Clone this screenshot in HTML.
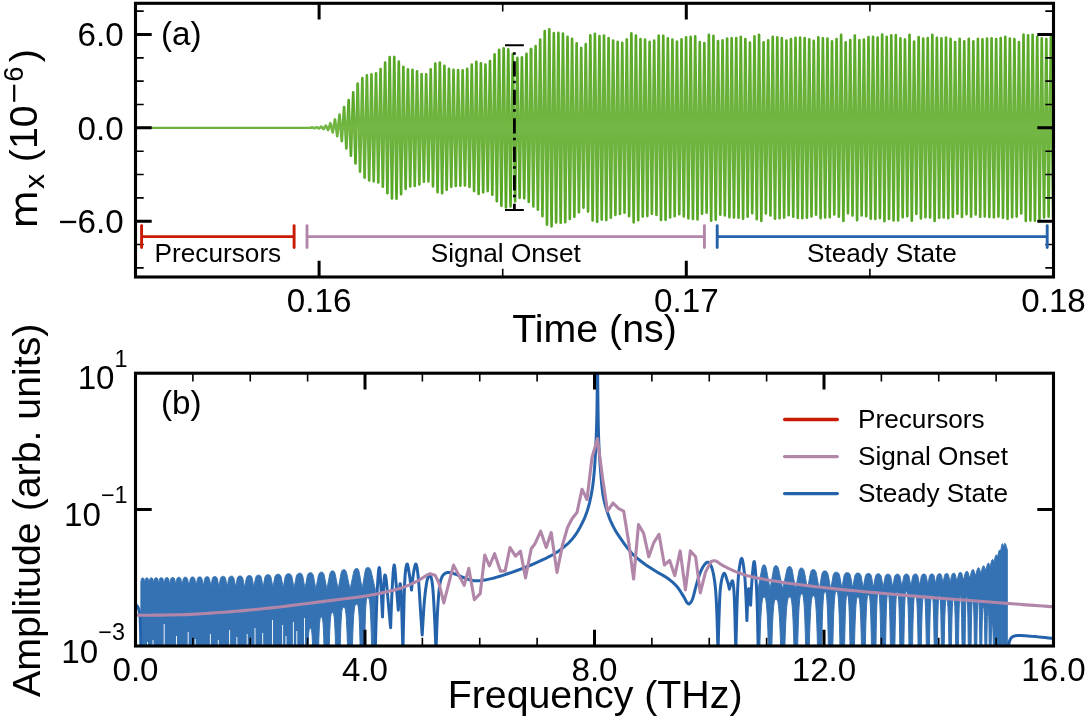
<!DOCTYPE html>
<html lang="en"><head><meta charset="utf-8"><title>Figure</title>
<style>html,body{margin:0;padding:0;background:#fff;}svg{display:block;will-change:transform;}text{font-family:"Liberation Sans",sans-serif;fill:#000;}</style></head><body>
<svg width="1086" height="720" viewBox="0 0 1086 720">
<rect x="0" y="0" width="1086" height="720" fill="#fff"/>
<defs>
<clipPath id="ca"><rect x="135.5" y="3.3" width="918" height="273.7"/></clipPath>
<clipPath id="cb"><rect x="135.5" y="373.2" width="918" height="272.8"/></clipPath>
<linearGradient id="g1" gradientUnits="userSpaceOnUse" x1="0" y1="99.85" x2="0" y2="155.85"><stop offset="0" stop-color="#54a622"/><stop offset="0.5" stop-color="#74b745"/><stop offset="1" stop-color="#54a622"/></linearGradient>
<linearGradient id="g2" gradientUnits="userSpaceOnUse" x1="0" y1="61.85" x2="0" y2="193.85"><stop offset="0" stop-color="#54a622"/><stop offset="0.5" stop-color="#74b745"/><stop offset="1" stop-color="#54a622"/></linearGradient>
<linearGradient id="gg" gradientUnits="userSpaceOnUse" x1="0" y1="30.05" x2="0" y2="225.65"><stop offset="0" stop-color="#54a622"/><stop offset="0.5" stop-color="#74b745"/><stop offset="1" stop-color="#54a622"/></linearGradient>
</defs>
<g clip-path="url(#ca)">
<path d="M132.04 127.85 L134.32 127.85 L136.6 127.85 L138.88 127.85 L141.16 127.85 L143.44 127.85 L145.72 127.85 L148 127.85 L150.28 127.85 L152.56 127.85 L154.84 127.85 L157.12 127.85 L159.4 127.85 L161.68 127.85 L163.96 127.85 L166.24 127.85 L168.52 127.85 L170.8 127.85 L173.08 127.85 L175.36 127.85 L177.64 127.85 L179.92 127.85 L182.2 127.85 L184.48 127.85 L186.76 127.85 L189.04 127.85 L191.32 127.85 L193.6 127.85 L195.88 127.85 L198.16 127.85 L200.44 127.85 L202.72 127.85 L205 127.85 L207.28 127.85 L209.56 127.85 L211.84 127.85 L214.12 127.85 L216.4 127.85 L218.68 127.85 L220.96 127.85 L223.24 127.85 L225.52 127.85 L227.8 127.85 L230.08 127.85 L232.36 127.85 L234.64 127.85 L236.92 127.85 L239.2 127.85 L241.48 127.85 L243.76 127.85 L246.04 127.85 L248.32 127.85 L250.6 127.85 L252.88 127.85 L255.16 127.85 L257.44 127.85 L259.72 127.85 L262 127.85 L264.28 127.85 L266.56 127.85 L268.84 127.85 L271.12 127.85 L273.4 127.85 L275.68 127.85 L277.96 127.85 L280.24 127.85 L282.52 127.85 L284.8 127.85 L287.08 127.85 L289.36 127.85 L291.64 127.85 L293.92 127.85 L296.2 127.85 L298.48 127.85 L300.76 127.85 L303.04 127.85 L305.32 127.85 L307.6 127.75 L309.88 127.95 L312.16 127.54" fill="none" stroke="#6db23e" stroke-width="2.2" stroke-linejoin="round" stroke-linecap="round"/>
<path d="M309.88 127.95 L312.16 127.54 L314.44 128.16 L316.72 127.18 L319 128.52 L321.28 126.61 L323.56 129.09 L325.84 125.55 L328.12 130.15 L330.4 123.23 L332.68 132.47 L334.96 119.46 L337.24 136.24 L339.52 114.51 L341.8 141.19 L344.08 107.19 L346.36 148.51 L348.64 99.97 L350.92 155.73 L353.2 92.22 L355.48 163.48 L357.76 83.93" fill="none" stroke="url(#g1)" stroke-width="2.65" stroke-linejoin="round" stroke-linecap="round"/>
<path d="M357.76 83.93 L360.04 171.77 L362.32 78.07 L364.6 177.63 L366.88 75.28 L369.16 180.42 L371.44 74.36 L373.72 181.34 L376 73.22 L378.28 182.48 L380.56 69.07 L382.84 186.63 L385.12 62.5 L387.4 193.2 L389.68 57.15 L391.96 198.55 L394.24 56.95 L396.52 198.75 L398.8 61.57 L401.08 194.13 L403.36 66.83 L405.64 188.87 L407.92 69.26 L410.2 186.44 L412.48 69.81 L414.76 185.89 L417.04 71.31 L419.32 184.39 L421.6 73.97 L423.88 181.73 L426.16 74.28 L428.44 181.42 L430.72 69.35 L433 186.35 L435.28 63.58 L437.56 192.12 L439.84 62.52 L442.12 193.18 L444.4 65.89 L446.68 189.81 L448.96 68.89 L451.24 186.81 L453.52 69.85 L455.8 185.85 L458.08 70.09 L460.36 185.61 L462.64 70.31 L464.92 185.39 L467.2 68.73 L469.48 186.97 L471.76 64.63 L474.04 191.07 L476.32 61.71 L478.6 193.99 L480.88 63.37 L483.16 192.33 L485.44 64.61 L487.72 191.09 L490 61.01 L492.28 194.69 L494.56 54.42 L496.84 201.28 L499.12 49.86 L501.4 205.84 L503.68 48.22 L505.96 207.48 L508.24 49.29 L510.52 206.41 L512.8 54.18 L515.08 201.52 L517.36 57.87 L519.64 197.83 L521.92 57.4 L524.2 198.3 L526.48 53.75 L528.76 201.95 L531.04 49.16" fill="none" stroke="url(#g2)" stroke-width="2.65" stroke-linejoin="round" stroke-linecap="round"/>
<path d="M531.04 49.16 L533.32 206.54 L535.6 45.96 L537.88 209.74 L540.16 39.58 L542.44 216.12 L544.72 31.06 L547 224.64 L549.28 29.36 L551.56 226.34 L553.84 33.18 L556.12 222.52 L558.4 32.92 L560.68 222.78 L562.96 33.47 L565.24 222.23 L567.52 36.79 L569.8 218.91 L572.08 38.87 L574.36 216.83 L576.64 43.38 L578.92 212.32 L581.2 47.95 L583.48 207.75 L585.76 44.14 L588.04 211.56 L590.32 35.25 L592.6 220.45 L594.88 33.86 L597.16 221.84 L599.44 36.14 L601.72 219.56 L604 35.61 L606.28 220.09 L608.56 38.06 L610.84 217.64 L613.12 40.67 L615.4 215.03 L617.68 41.72 L619.96 213.98 L622.24 42.93 L624.52 212.77 L626.8 39.45 L629.08 216.25 L631.36 33.37 L633.64 222.33 L635.92 35.59 L638.2 220.11 L640.48 39.13 L642.76 216.57 L645.04 39.63 L647.32 216.07 L649.6 41.85 L651.88 213.85 L654.16 40.67 L656.44 215.03 L658.72 35.7 L661 220 L663.28 35.86 L665.56 219.84 L667.84 38.29 L670.12 217.41 L672.4 39.59 L674.68 216.11 L676.96 41.47 L679.24 214.23 L681.52 39.25 L683.8 216.45 L686.08 37.35 L688.36 218.35 L690.64 36.83 L692.92 218.87 L695.2 36.25 L697.48 219.45 L699.76 42.07 L702.04 213.63 L704.32 42.98 L706.6 212.72 L708.88 34.94 L711.16 220.76 L713.44 35.93 L715.72 219.77 L718 41.05 L720.28 214.65 L722.56 40.26 L724.84 215.44 L727.12 38.56 L729.4 217.14 L731.68 38.2 L733.96 217.5 L736.24 38.08 L738.52 217.62 L740.8 36.9 L743.08 218.8 L745.36 38.96 L747.64 216.74 L749.92 42.5 L752.2 213.2 L754.48 36.44 L756.76 219.26 L759.04 34.82 L761.32 220.88 L763.6 42.24 L765.88 213.46 L768.16 40.24 L770.44 215.46 L772.72 36.94 L775 218.76 L777.28 37.44 L779.56 218.26 L781.84 38.15 L784.12 217.55 L786.4 40.5 L788.68 215.2 L790.96 39 L793.24 216.7 L795.52 37.84 L797.8 217.86 L800.08 37.47 L802.36 218.23 L804.64 38.02 L806.92 217.68 L809.2 39.33 L811.48 216.37 L813.76 40.94 L816.04 214.76 L818.32 37.41 L820.6 218.29 L822.88 38.21 L825.16 217.49 L827.44 38.55 L829.72 217.15 L832 41.26 L834.28 214.44 L836.56 39.02 L838.84 216.68 L841.12 34.74 L843.4 220.96 L845.68 42.36 L847.96 213.34 L850.24 40.12 L852.52 215.58 L854.8 35.58 L857.08 220.12 L859.36 40.19 L861.64 215.51 L863.92 39.56 L866.2 216.14 L868.48 37.05 L870.76 218.65 L873.04 36.83 L875.32 218.87 L877.6 37.64 L879.88 218.06 L882.16 34.58 L884.44 221.12 L886.72 36.78 L889 218.92 L891.28 35.32 L893.56 220.38 L895.84 35.18 L898.12 220.52 L900.4 38.35 L902.68 217.35 L904.96 39.45 L907.24 216.25 L909.52 34.91 L911.8 220.79 L914.08 41.68 L916.36 214.02 L918.64 37.17 L920.92 218.53 L923.2 38.51 L925.48 217.19 L927.76 38.18 L930.04 217.52 L932.32 34.76 L934.6 220.94 L936.88 37.89 L939.16 217.81 L941.44 38.34 L943.72 217.36 L946 37.52 L948.28 218.18 L950.56 38.76 L952.84 216.94 L955.12 42.03 L957.4 213.67 L959.68 38.84 L961.96 216.86 L964.24 41.43 L966.52 214.27 L968.8 38.92 L971.08 216.78 L973.36 41.32 L975.64 214.38 L977.92 38.9 L980.2 216.8 L982.48 39.22 L984.76 216.48 L987.04 38.68 L989.32 217.02 L991.6 38.35 L993.88 217.35 L996.16 39.1 L998.44 216.6 L1000.72 38 L1003 217.7 L1005.28 36.81 L1007.56 218.89 L1009.84 38.55 L1012.12 217.15 L1014.4 39.12 L1016.68 216.58 L1018.96 42.17 L1021.24 213.53 L1023.52 34.68 L1025.8 221.02 L1028.08 35.26 L1030.36 220.44 L1032.64 34.93 L1034.92 220.77 L1037.2 36.87 L1039.48 218.83 L1041.76 38.26 L1044.04 217.44 L1046.32 39.03 L1048.6 216.67 L1050.88 37.44 L1053.16 218.26 L1055.44 37.68" fill="none" stroke="url(#gg)" stroke-width="2.65" stroke-linejoin="round" stroke-linecap="round"/>
</g>
<path d="M319.1 3.3 v16.2 M319.1 277 v-16.2 M686.3 3.3 v16.2 M686.3 277 v-16.2 M135.5 34.5 h16.2 M1053.5 34.5 h-16.2 M135.5 127.85 h16.2 M1053.5 127.85 h-16.2 M135.5 221.2 h16.2 M1053.5 221.2 h-16.2" fill="none" stroke="#000" stroke-width="3.0"/>
<path d="M502.7 3.3 v8.2 M502.7 277 v-8.2 M869.9 3.3 v8.2 M869.9 277 v-8.2 M135.5 11.16 h8.2 M1053.5 11.16 h-8.2 M135.5 57.84 h8.2 M1053.5 57.84 h-8.2 M135.5 81.17 h8.2 M1053.5 81.17 h-8.2 M135.5 104.51 h8.2 M1053.5 104.51 h-8.2 M135.5 151.19 h8.2 M1053.5 151.19 h-8.2 M135.5 174.52 h8.2 M1053.5 174.52 h-8.2 M135.5 197.86 h8.2 M1053.5 197.86 h-8.2 M135.5 244.54 h8.2 M1053.5 244.54 h-8.2 M135.5 267.88 h8.2 M1053.5 267.88 h-8.2" fill="none" stroke="#000" stroke-width="1.6"/>
<rect x="135.5" y="3.3" width="918" height="273.7" fill="none" stroke="#000" stroke-width="3.1"/>
<path d="M141.6 225.6 V247.6 M141.6 236.6 H294.1 M294.1 225.6 V247.6" fill="none" stroke="#c81a05" stroke-width="2.9" stroke-linecap="round"/>
<path d="M307 225.6 V247.6 M307 236.6 H704.4 M704.4 225.6 V247.6" fill="none" stroke="#b186a9" stroke-width="2.9" stroke-linecap="round"/>
<path d="M717.2 225.6 V247.6 M717.2 236.6 H1047.2 M1047.2 225.6 V247.6" fill="none" stroke="#2463ab" stroke-width="2.9" stroke-linecap="round"/>
<text x="217.9" y="261.6" font-size="26.2" text-anchor="middle">Precursors</text>
<text x="505.8" y="261.6" font-size="26.2" text-anchor="middle">Signal Onset</text>
<text x="881.9" y="261.6" font-size="26.2" text-anchor="middle">Steady State</text>
<path d="M514.4 52.2 V210" fill="none" stroke="#000" stroke-width="2.8" stroke-dasharray="2.6 6.4 15.2 4.3"/>
<path d="M505 45.3 H523.8 M505 210 H523.8" fill="none" stroke="#000" stroke-width="2.1" stroke-linecap="butt"/>
<text x="319.1" y="311.9" font-size="33.2" text-anchor="middle">0.16</text>
<text x="686.3" y="311.9" font-size="33.2" text-anchor="middle">0.17</text>
<text x="1053.5" y="311.9" font-size="33.2" text-anchor="middle">0.18</text>
<text x="123.7" y="46.4" font-size="33.2" text-anchor="end">6.0</text>
<text x="123.7" y="139.75" font-size="33.2" text-anchor="end">0.0</text>
<text x="123.7" y="233.1" font-size="33.2" text-anchor="end">−6.0</text>
<text x="161" y="45.1" font-size="33.2" text-anchor="start">(a)</text>
<text x="594.5" y="341.8" font-size="39.3" text-anchor="middle">Time (ns)</text>
<text transform="rotate(-90)" x="-228.4" y="37.2" font-size="39.3" style="font-family:'DejaVu Sans',sans-serif">m</text>
<text transform="rotate(-90)" x="-189.6" y="44" font-size="27.4" style="font-family:'DejaVu Sans',sans-serif">x</text>
<text transform="rotate(-90)" x="-162.2" y="37.3" font-size="39.3">(10</text>
<text transform="rotate(-90)" x="-104.7" y="22.9" font-size="27.4" style="font-family:'DejaVu Sans',sans-serif">−</text>
<text transform="rotate(-90)" x="-81.7" y="22.9" font-size="27.4">6</text>
<text transform="rotate(-90)" x="-62.3" y="37.3" font-size="39.3">)</text>
<g clip-path="url(#cb)">
<path d="M135.5 700 H1053.5" fill="none" stroke="#c81a05" stroke-width="2.6"/>
<path d="M140.9 581.39 L141.22 580.04 L141.53 578.7 L141.85 578.22 L142.16 578.03 L142.48 577.98 L142.79 577.98 L143.11 578.01 L143.42 578.15 L143.74 578.43 L144.05 579.21 L144.37 580.27 L144.69 581.33 L144.69 582.22 L145 580.89 L145.31 579.55 L145.62 578.55 L145.93 578.17 L146.24 577.98 L146.56 577.92 L146.87 577.91 L147.18 577.92 L147.49 578.01 L147.8 578.22 L148.11 578.61 L148.43 579.67 L148.74 580.92 L149.05 582.16 L149.05 582.63 L149.36 581.24 L149.67 579.86 L149.98 578.66 L150.29 578.21 L150.6 577.97 L150.91 577.87 L151.23 577.84 L151.54 577.84 L151.85 577.88 L152.16 578.01 L152.47 578.27 L152.78 578.74 L153.09 579.98 L153.4 581.27 L153.71 582.56 L153.71 583.06 L154.03 581.62 L154.34 580.19 L154.65 578.8 L154.96 578.28 L155.27 577.97 L155.59 577.82 L155.9 577.77 L156.21 577.76 L156.52 577.78 L156.83 577.85 L157.15 578.02 L157.46 578.35 L157.77 578.98 L158.08 580.31 L158.39 581.65 L158.7 582.98 L158.7 583.52 L159.02 582.03 L159.33 580.54 L159.65 579.05 L159.96 578.36 L160.27 577.99 L160.59 577.79 L160.9 577.71 L161.22 577.69 L161.53 577.69 L161.84 577.72 L162.16 577.83 L162.47 578.06 L162.79 578.45 L163.1 579.29 L163.41 580.67 L163.73 582.05 L164.04 583.44 L164.04 584.01 L164.34 582.55 L164.64 581.08 L164.94 579.62 L165.24 578.58 L165.54 578.12 L165.84 577.84 L166.14 577.68 L166.45 577.62 L166.75 577.6 L167.05 577.6 L167.35 577.62 L167.65 577.71 L167.95 577.89 L168.25 578.2 L168.55 578.67 L168.85 579.83 L169.15 581.19 L169.45 582.54 L169.75 583.9 L169.75 584.36 L170.05 582.89 L170.35 581.42 L170.65 579.96 L170.95 578.7 L171.25 578.18 L171.55 577.84 L171.85 577.63 L172.15 577.52 L172.45 577.48 L172.75 577.47 L173.05 577.47 L173.35 577.51 L173.65 577.62 L173.95 577.84 L174.25 578.19 L174.55 578.71 L174.85 580.01 L175.15 581.41 L175.45 582.82 L175.75 584.22 L175.75 584.61 L176.06 583.05 L176.38 581.49 L176.69 579.93 L177 578.62 L177.31 578.07 L177.62 577.71 L177.94 577.49 L178.25 577.39 L178.56 577.35 L178.88 577.34 L179.19 577.34 L179.5 577.39 L179.81 577.51 L180.12 577.74 L180.44 578.11 L180.75 578.66 L181.06 580.05 L181.38 581.53 L181.69 583 L182 584.48 L182 585.48 L182.31 583.78 L182.63 582.08 L182.94 580.38 L183.25 578.79 L183.57 578.15 L183.88 577.71 L184.2 577.43 L184.51 577.28 L184.82 577.22 L185.14 577.2 L185.45 577.19 L185.76 577.21 L186.08 577.27 L186.39 577.4 L186.7 577.63 L187.02 577.98 L187.33 578.47 L187.65 579.5 L187.96 580.95 L188.27 582.41 L188.59 583.87 L188.9 585.33 L188.9 585.8 L189.2 584.31 L189.5 582.82 L189.8 581.33 L190.1 579.84 L190.4 578.62 L190.7 578.06 L191 577.66 L191.3 577.38 L191.6 577.2 L191.9 577.1 L192.2 577.05 L192.5 577.04 L192.8 577.03 L193.1 577.05 L193.4 577.11 L193.7 577.24 L194 577.47 L194.3 577.83 L194.6 578.35 L194.9 579.4 L195.2 580.96 L195.5 582.52 L195.8 584.08 L196.1 585.64 L196.1 585.64 L196.4 584.07 L196.7 582.49 L197 580.92 L197.3 579.35 L197.6 578.29 L197.9 577.75 L198.2 577.38 L198.5 577.13 L198.8 576.99 L199.1 576.92 L199.4 576.89 L199.7 576.88 L200 576.88 L200.3 576.92 L200.6 577.01 L200.9 577.17 L201.2 577.44 L201.5 577.83 L201.8 578.37 L202.1 579.58 L202.4 581.06 L202.7 582.53 L203 584.01 L203.3 585.48 L203.3 586.02 L203.6 584.43 L203.9 582.84 L204.21 581.25 L204.51 579.66 L204.81 578.37 L205.11 577.79 L205.41 577.37 L205.72 577.07 L206.02 576.89 L206.32 576.78 L206.62 576.74 L206.92 576.72 L207.23 576.72 L207.53 576.73 L207.83 576.78 L208.13 576.89 L208.43 577.09 L208.74 577.39 L209.04 577.82 L209.34 578.41 L209.64 579.79 L209.94 581.31 L210.25 582.83 L210.55 584.34 L210.85 585.86 L210.85 586.56 L211.16 584.88 L211.47 583.21 L211.77 581.53 L212.08 579.85 L212.39 578.41 L212.7 577.77 L213 577.3 L213.31 576.97 L213.62 576.76 L213.93 576.64 L214.23 576.58 L214.54 576.56 L214.85 576.55 L215.16 576.55 L215.47 576.59 L215.77 576.67 L216.08 576.83 L216.39 577.08 L216.7 577.44 L217 577.93 L217.31 578.67 L217.62 580.22 L217.93 581.76 L218.23 583.3 L218.54 584.84 L218.85 586.38 L218.85 586.85 L219.16 585.22 L219.46 583.59 L219.77 581.97 L220.08 580.34 L220.39 578.72 L220.69 577.92 L221 577.39 L221.31 577 L221.62 576.72 L221.92 576.55 L222.23 576.44 L222.54 576.39 L222.85 576.38 L223.15 576.37 L223.46 576.37 L223.77 576.41 L224.08 576.5 L224.38 576.66 L224.69 576.92 L225 577.3 L225.31 577.82 L225.61 578.6 L225.92 580.21 L226.23 581.83 L226.54 583.44 L226.84 585.05 L227.15 586.67 L227.15 586.9 L227.45 585.27 L227.75 583.63 L228.06 582 L228.36 580.37 L228.66 578.74 L228.96 577.84 L229.26 577.29 L229.56 576.88 L229.87 576.59 L230.17 576.4 L230.47 576.28 L230.77 576.22 L231.07 576.2 L231.38 576.19 L231.68 576.19 L231.98 576.21 L232.28 576.27 L232.58 576.4 L232.88 576.6 L233.19 576.9 L233.49 577.32 L233.79 577.86 L234.09 578.9 L234.39 580.46 L234.69 582.03 L235 583.59 L235.3 585.15 L235.6 586.71 L235.6 587.57 L235.9 585.87 L236.2 584.18 L236.5 582.49 L236.8 580.8 L237.1 579.11 L237.4 577.95 L237.7 577.34 L238 576.87 L238.3 576.53 L238.6 576.3 L238.9 576.15 L239.2 576.06 L239.5 576.02 L239.8 576 L240.1 576 L240.4 575.99 L240.7 576.01 L241 576.08 L241.3 576.19 L241.6 576.38 L241.9 576.65 L242.2 577.03 L242.5 577.51 L242.8 578.13 L243.1 579.62 L243.4 581.15 L243.7 582.67 L244 584.2 L244.3 585.73 L244.6 587.26 L244.6 587.64 L244.91 585.99 L245.22 584.34 L245.53 582.69 L245.83 581.03 L246.14 579.38 L246.45 577.92 L246.76 577.26 L247.07 576.74 L247.38 576.34 L247.68 576.05 L247.99 575.84 L248.3 575.71 L248.61 575.63 L248.92 575.59 L249.23 575.57 L249.53 575.56 L249.84 575.56 L250.15 575.59 L250.46 575.68 L250.77 575.83 L251.07 576.07 L251.38 576.42 L251.69 576.9 L252 577.52 L252.31 578.82 L252.62 580.5 L252.93 582.18 L253.23 583.86 L253.54 585.53 L253.85 587.21 L253.85 587.21 L254.16 585.51 L254.47 583.8 L254.78 582.09 L255.08 580.39 L255.39 578.68 L255.7 577.35 L256.01 576.7 L256.32 576.19 L256.62 575.81 L256.93 575.54 L257.24 575.36 L257.55 575.25 L257.86 575.18 L258.17 575.15 L258.48 575.14 L258.78 575.13 L259.09 575.14 L259.4 575.19 L259.71 575.29 L260.02 575.47 L260.32 575.74 L260.63 576.1 L260.94 576.6 L261.25 577.23 L261.56 578.66 L261.87 580.29 L262.18 581.91 L262.48 583.53 L262.79 585.16 L263.1 586.78 L263.1 587.55 L263.4 585.82 L263.71 584.08 L264.01 582.34 L264.32 580.6 L264.62 578.86 L264.93 577.26 L265.23 576.55 L265.54 575.99 L265.84 575.56 L266.15 575.24 L266.45 575.02 L266.76 574.87 L267.06 574.78 L267.37 574.73 L267.67 574.71 L267.98 574.69 L268.28 574.69 L268.58 574.71 L268.89 574.76 L269.19 574.86 L269.5 575.03 L269.8 575.27 L270.11 575.61 L270.41 576.05 L270.72 576.61 L271.02 577.56 L271.33 579.15 L271.63 580.74 L271.94 582.33 L272.24 583.92 L272.55 585.51 L272.85 587.1 L272.85 587.95 L273.15 586.23 L273.46 584.52 L273.76 582.8 L274.06 581.08 L274.36 579.37 L274.67 577.65 L274.97 576.58 L275.27 575.95 L275.58 575.44 L275.88 575.05 L276.18 574.76 L276.49 574.55 L276.79 574.4 L277.09 574.32 L277.39 574.27 L277.7 574.24 L278 574.23 L278.3 574.22 L278.61 574.23 L278.91 574.26 L279.21 574.35 L279.51 574.49 L279.82 574.69 L280.12 574.98 L280.42 575.37 L280.73 575.87 L281.03 576.48 L281.33 577.73 L281.64 579.35 L281.94 580.98 L282.24 582.6 L282.54 584.22 L282.85 585.85 L283.15 587.47 L283.15 588.32 L283.45 586.58 L283.75 584.83 L284.05 583.08 L284.36 581.34 L284.66 579.59 L284.96 577.84 L285.26 576.46 L285.56 575.78 L285.86 575.22 L286.16 574.78 L286.47 574.43 L286.77 574.18 L287.07 574 L287.37 573.88 L287.67 573.81 L287.97 573.77 L288.27 573.75 L288.57 573.73 L288.88 573.73 L289.18 573.74 L289.48 573.78 L289.78 573.86 L290.08 573.99 L290.38 574.18 L290.68 574.45 L290.99 574.81 L291.29 575.27 L291.59 575.83 L291.89 576.58 L292.19 578.21 L292.49 579.85 L292.79 581.5 L293.1 583.15 L293.4 584.81 L293.7 586.47 L294 588.14 L294 588.3 L294.3 586.73 L294.61 585.15 L294.91 583.56 L295.22 581.97 L295.52 580.37 L295.82 578.77 L296.13 577.17 L296.43 575.97 L296.74 575.28 L297.04 574.72 L297.35 574.27 L297.65 573.92 L297.95 573.66 L298.26 573.48 L298.56 573.36 L298.87 573.29 L299.17 573.25 L299.48 573.22 L299.78 573.21 L300.08 573.21 L300.39 573.23 L300.69 573.29 L301 573.41 L301.3 573.61 L301.6 573.9 L301.91 574.3 L302.21 574.82 L302.52 575.49 L302.82 576.45 L303.13 578.18 L303.43 579.91 L303.73 581.66 L304.04 583.4 L304.34 585.16 L304.65 586.92 L304.95 588.68 L304.95 588.51 L305.25 586.92 L305.55 585.31 L305.85 583.71 L306.16 582.1 L306.46 580.48 L306.76 578.86 L307.06 577.23 L307.36 575.77 L307.66 574.95 L307.96 574.29 L308.27 573.78 L308.57 573.4 L308.87 573.12 L309.17 572.93 L309.47 572.82 L309.77 572.75 L310.07 572.72 L310.38 572.71 L310.68 572.7 L310.98 572.71 L311.28 572.76 L311.58 572.88 L311.88 573.06 L312.18 573.35 L312.48 573.74 L312.79 574.26 L313.09 574.94 L313.39 575.78 L313.69 577.38 L313.99 579.01 L314.29 580.64 L314.59 582.28 L314.9 583.92 L315.2 585.57 L315.5 587.22 L315.8 588.87 L315.8 589.23 L316.11 587.63 L316.41 586.04 L316.72 584.43 L317.03 582.82 L317.33 581.21 L317.64 579.59 L317.95 577.97 L318.26 576.34 L318.56 575.1 L318.87 574.25 L319.18 573.59 L319.48 573.09 L319.79 572.73 L320.1 572.48 L320.4 572.33 L320.71 572.24 L321.02 572.2 L321.33 572.16 L321.63 572.13 L321.94 572.13 L322.25 572.17 L322.55 572.29 L322.86 572.5 L323.17 572.83 L323.47 573.31 L323.78 573.95 L324.09 574.78 L324.39 576.07 L324.7 577.7 L325.01 579.33 L325.32 580.97 L325.62 582.61 L325.93 584.26 L326.24 585.91 L326.54 587.57 L326.85 589.23 L326.85 589.42 L327.15 587.85 L327.45 586.28 L327.75 584.7 L328.06 583.12 L328.36 581.53 L328.66 579.94 L328.96 578.35 L329.26 576.75 L329.56 575.15 L329.86 573.95 L330.16 573.05 L330.47 572.35 L330.77 571.83 L331.07 571.46 L331.37 571.21 L331.67 571.06 L331.97 570.97 L332.27 570.93 L332.58 570.89 L332.88 570.88 L333.18 570.9 L333.48 571 L333.78 571.19 L334.08 571.51 L334.38 571.97 L334.69 572.62 L334.99 573.47 L335.29 574.66 L335.59 576.2 L335.89 577.75 L336.19 579.29 L336.49 580.84 L336.79 582.39 L337.1 583.94 L337.4 585.49 L337.7 587.04 L338 588.59 L338 590.41 L338.3 588.71 L338.61 587.01 L338.91 585.31 L339.21 583.6 L339.51 581.9 L339.81 580.19 L340.12 578.48 L340.42 576.77 L340.72 575.06 L341.02 573.49 L341.33 572.35 L341.63 571.46 L341.93 570.8 L342.24 570.33 L342.54 570.02 L342.84 569.82 L343.14 569.72 L343.44 569.66 L343.75 569.63 L344.05 569.61 L344.35 569.63 L344.66 569.7 L344.96 569.85 L345.26 570.1 L345.56 570.47 L345.87 570.99 L346.17 571.67 L346.47 572.55 L346.77 573.67 L347.08 575.11 L347.38 576.54 L347.68 577.97 L347.98 579.41 L348.29 580.84 L348.59 582.28 L348.89 583.72 L349.19 585.15 L349.5 586.59 L349.8 588.03 L350.1 589.48 L350.1 589.28 L350.4 587.83 L350.7 586.37 L351 584.91 L351.3 583.45 L351.6 581.99 L351.9 580.53 L352.2 579.07 L352.5 577.6 L352.8 576.14 L353.1 574.67 L353.4 573.21 L353.7 572 L354 571.06 L354.3 570.31 L354.6 569.73 L354.9 569.29 L355.2 568.97 L355.5 568.76 L355.8 568.62 L356.1 568.54 L356.4 568.5 L356.7 568.47 L357 568.46 L357.3 568.49 L357.6 568.61 L357.9 568.85 L358.2 569.25 L358.5 569.83 L358.8 570.65 L359.1 571.73 L359.4 573.23 L359.7 574.92 L360 576.62 L360.3 578.31 L360.6 580 L360.9 581.7 L361.2 583.39 L361.5 585.09 L361.8 586.79 L362.1 588.49 L362.1 589.42 L362.4 587.58 L362.71 585.73 L363.01 583.89 L363.32 582.04 L363.62 580.19 L363.93 578.34 L364.23 576.48 L364.54 574.63 L364.84 572.77 L365.15 571.18 L365.45 570.02 L365.76 569.14 L366.06 568.49 L366.37 568.05 L366.67 567.77 L366.97 567.61 L367.28 567.54 L367.58 567.5 L367.89 567.49 L368.19 567.49 L368.5 567.53 L368.8 567.61 L369.11 567.75 L369.41 567.96 L369.72 568.26 L370.02 568.68 L370.33 569.21 L370.63 569.88 L370.93 570.7 L371.24 571.69 L371.54 573.02 L371.85 574.36 L372.15 575.7 L372.46 577.04 L372.76 578.39 L373.07 579.73 L373.37 581.08 L373.68 582.43 L373.98 583.78 L374.29 585.13 L374.59 586.49 L374.9 587.84 L375.2 589.19 L375.2 652 L374.9 652 L374.59 652 L374.29 652 L373.98 652 L373.68 652 L373.37 652 L373.07 652 L372.76 652 L372.46 652 L372.15 652 L371.85 652 L371.54 644 L371.24 632.4 L370.93 623.08 L370.63 615.72 L370.33 610.06 L370.02 605.82 L369.72 602.77 L369.41 600.67 L369.11 599.31 L368.8 598.51 L368.5 598.09 L368.19 597.91 L367.89 597.87 L367.58 597.86 L367.28 597.88 L366.97 598.06 L366.67 598.68 L366.37 600.12 L366.06 602.86 L365.76 607.44 L365.45 614.46 L365.15 624.62 L364.84 638.64 L364.54 652 L364.23 652 L363.93 652 L363.62 652 L363.32 652 L363.01 652 L362.71 652 L362.4 652 L362.1 652 L362.1 652 L361.8 652 L361.5 652 L361.2 652 L360.9 652 L360.6 652 L360.3 652 L360 641.1 L359.7 630.71 L359.4 622.62 L359.1 616.5 L358.8 612.02 L358.5 608.87 L358.2 606.79 L357.9 605.5 L357.6 604.8 L357.3 604.47 L357 604.37 L356.7 604.35 L356.4 604.35 L356.1 604.37 L355.8 604.46 L355.5 604.7 L355.2 605.18 L354.9 606.01 L354.6 607.33 L354.3 609.28 L354 612.02 L353.7 615.71 L353.4 620.54 L353.1 626.71 L352.8 634.41 L352.5 643.87 L352.2 652 L351.9 652 L351.6 652 L351.3 652 L351 652 L350.7 652 L350.4 652 L350.1 652 L350.1 652 L349.8 652 L349.5 652 L349.19 652 L348.89 652 L348.59 652 L348.29 652 L347.98 652 L347.68 652 L347.38 642.52 L347.08 633.4 L346.77 626.13 L346.47 620.45 L346.17 616.14 L345.87 612.96 L345.56 610.71 L345.26 609.21 L344.96 608.27 L344.66 607.74 L344.35 607.49 L344.05 607.4 L343.75 607.39 L343.44 607.39 L343.14 607.42 L342.84 607.57 L342.54 608.01 L342.24 608.93 L341.93 610.55 L341.63 613.15 L341.33 617.03 L341.02 622.51 L340.72 629.94 L340.42 639.71 L340.12 652 L339.81 652 L339.51 652 L339.21 652 L338.91 652 L338.61 652 L338.3 652 L338 652 L338 652 L337.7 652 L337.4 652 L337.1 652 L336.79 652 L336.49 652 L336.19 652 L335.89 652 L335.59 647.51 L335.29 637.06 L334.99 629.1 L334.69 623.21 L334.38 619.03 L334.08 616.22 L333.78 614.45 L333.48 613.44 L333.18 612.96 L332.88 612.78 L332.58 612.74 L332.27 612.74 L331.97 612.77 L331.67 612.92 L331.37 613.35 L331.07 614.29 L330.77 615.96 L330.47 618.67 L330.16 622.73 L329.86 628.49 L329.56 636.33 L329.26 646.67 L328.96 652 L328.66 652 L328.36 652 L328.06 652 L327.75 652 L327.45 652 L327.15 652 L326.85 652 L326.85 652 L326.54 652 L326.24 652 L325.93 652 L325.62 652 L325.32 652 L325.01 652 L324.7 652 L324.39 652 L324.09 649.91 L323.78 638.69 L323.47 630.56 L323.17 624.92 L322.86 621.24 L322.55 619.03 L322.25 617.86 L321.94 617.36 L321.63 617.21 L321.33 617.2 L321.02 617.2 L320.71 617.32 L320.4 617.76 L320.1 618.84 L319.79 620.91 L319.48 624.43 L319.18 629.89 L318.87 637.83 L318.56 648.86 L318.26 652 L317.95 652 L317.64 652 L317.33 652 L317.03 652 L316.72 652 L316.41 652 L316.11 652 L315.8 652 L315.8 652 L315.5 652 L315.2 652 L314.9 652 L314.59 652 L314.29 652 L313.99 652 L313.69 652 L313.39 652 L313.09 652 L312.79 651.51 L312.48 642.9 L312.18 636.89 L311.88 632.91 L311.58 630.49 L311.28 629.18 L310.98 628.58 L310.68 628.39 L310.38 628.37 L310.07 628.37 L309.77 628.46 L309.47 628.86 L309.17 629.87 L308.87 631.88 L308.57 635.35 L308.27 640.8 L307.96 648.81 L307.66 652 L307.36 652 L307.06 652 L306.76 652 L306.46 652 L306.16 652 L305.85 652 L305.55 652 L305.25 652 L304.95 652 L304.95 652 L304.65 652 L304.34 652 L304.04 652 L303.73 652 L303.43 652 L303.13 652 L302.82 652 L302.52 652 L302.21 652 L301.91 652 L301.6 649.84 L301.3 647.82 L301 646.55 L300.69 645.83 L300.39 645.48 L300.08 645.35 L299.78 645.32 L299.48 645.32 L299.17 645.33 L298.87 645.42 L298.56 645.68 L298.26 646.22 L297.95 647.21 L297.65 648.8 L297.35 651.18 L297.04 652 L296.74 652 L296.43 652 L296.13 652 L295.82 652 L295.52 652 L295.22 652 L294.91 652 L294.61 652 L294.3 652 L294 652 L294 652 L293.7 652 L293.4 652 L293.1 652 L292.79 652 L292.49 652 L292.19 652 L291.89 652 L291.59 652 L291.29 652 L290.99 652 L290.68 652 L290.38 652 L290.08 652 L289.78 652 L289.48 652 L289.18 652 L288.88 652 L288.57 652 L288.27 652 L287.97 652 L287.67 652 L287.37 652 L287.07 652 L286.77 652 L286.47 652 L286.16 652 L285.86 652 L285.56 652 L285.26 652 L284.96 652 L284.66 652 L284.36 652 L284.05 652 L283.75 652 L283.45 652 L283.15 652 L283.15 652 L282.85 652 L282.54 652 L282.24 652 L281.94 652 L281.64 652 L281.33 652 L281.03 652 L280.73 652 L280.42 652 L280.12 652 L279.82 652 L279.51 652 L279.21 652 L278.91 652 L278.61 652 L278.3 652 L278 652 L277.7 652 L277.39 652 L277.09 652 L276.79 652 L276.49 652 L276.18 652 L275.88 652 L275.58 652 L275.27 652 L274.97 652 L274.67 652 L274.36 652 L274.06 652 L273.76 652 L273.46 652 L273.15 652 L272.85 652 L272.85 652 L272.55 652 L272.24 652 L271.94 652 L271.63 652 L271.33 652 L271.02 652 L270.72 652 L270.41 652 L270.11 652 L269.8 652 L269.5 652 L269.19 652 L268.89 652 L268.58 652 L268.28 652 L267.98 652 L267.67 652 L267.37 652 L267.06 652 L266.76 652 L266.45 652 L266.15 652 L265.84 652 L265.54 652 L265.23 652 L264.93 652 L264.62 652 L264.32 652 L264.01 652 L263.71 652 L263.4 652 L263.1 652 L263.1 652 L262.79 652 L262.48 652 L262.18 652 L261.87 652 L261.56 652 L261.25 652 L260.94 652 L260.63 652 L260.32 652 L260.02 652 L259.71 652 L259.4 652 L259.09 652 L258.78 652 L258.48 652 L258.17 652 L257.86 652 L257.55 652 L257.24 652 L256.93 652 L256.62 652 L256.32 652 L256.01 652 L255.7 652 L255.39 652 L255.08 652 L254.78 652 L254.47 652 L254.16 652 L253.85 652 L253.85 652 L253.54 652 L253.23 652 L252.93 652 L252.62 652 L252.31 652 L252 652 L251.69 652 L251.38 652 L251.07 652 L250.77 652 L250.46 652 L250.15 652 L249.84 652 L249.53 652 L249.23 652 L248.92 652 L248.61 652 L248.3 652 L247.99 652 L247.68 652 L247.38 652 L247.07 652 L246.76 652 L246.45 652 L246.14 652 L245.83 652 L245.53 652 L245.22 652 L244.91 652 L244.6 652 L244.6 652 L244.3 652 L244 652 L243.7 652 L243.4 652 L243.1 652 L242.8 652 L242.5 652 L242.2 652 L241.9 652 L241.6 652 L241.3 652 L241 652 L240.7 652 L240.4 652 L240.1 652 L239.8 652 L239.5 652 L239.2 652 L238.9 652 L238.6 652 L238.3 652 L238 652 L237.7 652 L237.4 652 L237.1 652 L236.8 652 L236.5 652 L236.2 652 L235.9 652 L235.6 652 L235.6 652 L235.3 652 L235 652 L234.69 652 L234.39 652 L234.09 652 L233.79 652 L233.49 652 L233.19 652 L232.88 652 L232.58 652 L232.28 652 L231.98 652 L231.68 652 L231.38 652 L231.07 652 L230.77 652 L230.47 652 L230.17 652 L229.87 652 L229.56 652 L229.26 652 L228.96 652 L228.66 652 L228.36 652 L228.06 652 L227.75 652 L227.45 652 L227.15 652 L227.15 652 L226.84 652 L226.54 652 L226.23 652 L225.92 652 L225.61 652 L225.31 652 L225 652 L224.69 652 L224.38 652 L224.08 652 L223.77 652 L223.46 652 L223.15 652 L222.85 652 L222.54 652 L222.23 652 L221.92 652 L221.62 652 L221.31 652 L221 652 L220.69 652 L220.39 652 L220.08 652 L219.77 652 L219.46 652 L219.16 652 L218.85 652 L218.85 652 L218.54 652 L218.23 652 L217.93 652 L217.62 652 L217.31 652 L217 652 L216.7 652 L216.39 652 L216.08 652 L215.77 652 L215.47 652 L215.16 652 L214.85 652 L214.54 652 L214.23 652 L213.93 652 L213.62 652 L213.31 652 L213 652 L212.7 652 L212.39 652 L212.08 652 L211.77 652 L211.47 652 L211.16 652 L210.85 652 L210.85 652 L210.55 652 L210.25 652 L209.94 652 L209.64 652 L209.34 652 L209.04 652 L208.74 652 L208.43 652 L208.13 652 L207.83 652 L207.53 652 L207.23 652 L206.92 652 L206.62 652 L206.32 652 L206.02 652 L205.72 652 L205.41 652 L205.11 652 L204.81 652 L204.51 652 L204.21 652 L203.9 652 L203.6 652 L203.3 652 L203.3 652 L203 652 L202.7 652 L202.4 652 L202.1 652 L201.8 652 L201.5 652 L201.2 652 L200.9 652 L200.6 652 L200.3 652 L200 652 L199.7 652 L199.4 652 L199.1 652 L198.8 652 L198.5 652 L198.2 652 L197.9 652 L197.6 652 L197.3 652 L197 652 L196.7 652 L196.4 652 L196.1 652 L196.1 652 L195.8 652 L195.5 652 L195.2 652 L194.9 652 L194.6 652 L194.3 652 L194 652 L193.7 652 L193.4 652 L193.1 652 L192.8 652 L192.5 652 L192.2 652 L191.9 652 L191.6 652 L191.3 652 L191 652 L190.7 652 L190.4 652 L190.1 652 L189.8 652 L189.5 652 L189.2 652 L188.9 652 L188.9 652 L188.59 652 L188.27 652 L187.96 652 L187.65 652 L187.33 652 L187.02 652 L186.7 652 L186.39 652 L186.08 652 L185.76 652 L185.45 652 L185.14 652 L184.82 652 L184.51 652 L184.2 652 L183.88 652 L183.57 652 L183.25 652 L182.94 652 L182.63 652 L182.31 652 L182 652 L182 652 L181.69 652 L181.38 652 L181.06 652 L180.75 652 L180.44 652 L180.12 652 L179.81 652 L179.5 652 L179.19 652 L178.88 652 L178.56 652 L178.25 652 L177.94 652 L177.62 652 L177.31 652 L177 652 L176.69 652 L176.38 652 L176.06 652 L175.75 652 L175.75 652 L175.45 652 L175.15 652 L174.85 652 L174.55 652 L174.25 652 L173.95 652 L173.65 652 L173.35 652 L173.05 652 L172.75 652 L172.45 652 L172.15 652 L171.85 652 L171.55 652 L171.25 652 L170.95 652 L170.65 652 L170.35 652 L170.05 652 L169.75 652 L169.75 652 L169.45 652 L169.15 652 L168.85 652 L168.55 652 L168.25 652 L167.95 652 L167.65 652 L167.35 652 L167.05 652 L166.75 652 L166.45 652 L166.14 652 L165.84 652 L165.54 652 L165.24 652 L164.94 652 L164.64 652 L164.34 652 L164.04 652 L164.04 652 L163.73 652 L163.41 652 L163.1 652 L162.79 652 L162.47 652 L162.16 652 L161.84 652 L161.53 652 L161.22 652 L160.9 652 L160.59 652 L160.27 652 L159.96 652 L159.65 652 L159.33 652 L159.02 652 L158.7 652 L158.7 652 L158.39 652 L158.08 652 L157.77 652 L157.46 652 L157.15 652 L156.83 652 L156.52 652 L156.21 652 L155.9 652 L155.59 652 L155.27 652 L154.96 652 L154.65 652 L154.34 652 L154.03 652 L153.71 652 L153.71 652 L153.4 652 L153.09 652 L152.78 652 L152.47 652 L152.16 652 L151.85 652 L151.54 652 L151.23 652 L150.91 652 L150.6 652 L150.29 652 L149.98 652 L149.67 652 L149.36 652 L149.05 652 L149.05 652 L148.74 652 L148.43 652 L148.11 652 L147.8 652 L147.49 652 L147.18 652 L146.87 652 L146.56 652 L146.24 652 L145.93 652 L145.62 652 L145.31 652 L145 652 L144.69 652 L144.69 652 L144.37 652 L144.05 652 L143.74 652 L143.42 652 L143.11 652 L142.79 652 L142.48 652 L142.16 652 L141.85 652 L141.53 652 L141.22 652 L140.9 652 Z" fill="#3572b3" stroke="#3572b3" stroke-width="1.0" stroke-linejoin="round"/>
<path d="M758.2 588.5 L758.5 586.83 L758.81 585.16 L759.11 583.49 L759.41 581.83 L759.71 580.17 L760.02 578.51 L760.32 576.85 L760.62 575.2 L760.92 573.55 L761.23 571.91 L761.53 570.27 L761.83 568.62 L762.13 567.29 L762.44 566.32 L762.74 565.64 L763.04 565.22 L763.34 564.99 L763.65 564.9 L763.95 564.89 L764.25 564.91 L764.55 564.96 L764.86 565.09 L765.16 565.36 L765.46 565.82 L765.76 566.52 L766.07 567.52 L766.37 568.87 L766.67 570.52 L766.97 572.16 L767.28 573.8 L767.58 575.44 L767.88 577.07 L768.18 578.7 L768.49 580.33 L768.79 581.96 L769.09 583.58 L769.39 585.2 L769.7 586.82 L770 588.43 L770 589.43 L770.3 587.67 L770.61 585.91 L770.91 584.15 L771.22 582.4 L771.52 580.65 L771.83 578.9 L772.13 577.16 L772.44 575.41 L772.74 573.68 L773.05 571.94 L773.35 570.21 L773.66 568.74 L773.96 567.62 L774.27 566.8 L774.57 566.25 L774.88 565.91 L775.18 565.73 L775.49 565.67 L775.79 565.67 L776.1 565.69 L776.4 565.73 L776.7 565.82 L777.01 565.99 L777.31 566.26 L777.62 566.68 L777.92 567.26 L778.23 568.04 L778.53 569.05 L778.84 570.31 L779.14 571.78 L779.45 573.26 L779.75 574.73 L780.06 576.21 L780.36 577.68 L780.67 579.15 L780.97 580.62 L781.28 582.08 L781.58 583.54 L781.89 585 L782.19 586.45 L782.5 587.91 L782.8 589.36 L782.8 589.36 L783.1 587.86 L783.4 586.36 L783.7 584.87 L784 583.38 L784.3 581.9 L784.6 580.41 L784.9 578.93 L785.2 577.45 L785.5 575.98 L785.8 574.5 L786.1 573.03 L786.4 571.57 L786.7 570.25 L787 569.22 L787.3 568.4 L787.6 567.76 L787.9 567.29 L788.2 566.96 L788.5 566.75 L788.8 566.62 L789.1 566.57 L789.4 566.56 L789.7 566.58 L790 566.61 L790.3 566.68 L790.6 566.83 L790.9 567.08 L791.2 567.48 L791.5 568.04 L791.8 568.81 L792.1 569.82 L792.4 571.11 L792.7 572.77 L793 574.47 L793.3 576.16 L793.6 577.86 L793.9 579.55 L794.2 581.24 L794.5 582.92 L794.8 584.6 L795.1 586.28 L795.4 587.95 L795.7 589.63 L795.7 588.73 L796 587.07 L796.31 585.4 L796.61 583.74 L796.92 582.09 L797.22 580.43 L797.52 578.78 L797.83 577.14 L798.13 575.5 L798.43 573.86 L798.74 572.22 L799.04 570.96 L799.35 570.02 L799.65 569.29 L799.95 568.77 L800.26 568.41 L800.56 568.18 L800.87 568.07 L801.17 568.03 L801.47 568.05 L801.78 568.08 L802.08 568.13 L802.38 568.22 L802.69 568.38 L802.99 568.63 L803.3 569.02 L803.6 569.56 L803.9 570.3 L804.21 571.26 L804.51 572.46 L804.82 574.14 L805.12 575.84 L805.42 577.54 L805.73 579.23 L806.03 580.92 L806.33 582.61 L806.64 584.29 L806.94 585.97 L807.25 587.64 L807.55 589.31 L807.55 589 L807.85 587.29 L808.15 585.59 L808.45 583.89 L808.75 582.19 L809.05 580.49 L809.35 578.8 L809.65 577.12 L809.95 575.44 L810.25 573.76 L810.55 572.47 L810.85 571.57 L811.15 570.88 L811.45 570.35 L811.75 569.98 L812.05 569.73 L812.35 569.58 L812.65 569.52 L812.95 569.51 L813.25 569.53 L813.55 569.57 L813.85 569.61 L814.15 569.69 L814.45 569.83 L814.75 570.05 L815.05 570.37 L815.35 570.81 L815.65 571.39 L815.95 572.14 L816.25 573.09 L816.55 574.41 L816.85 576.1 L817.15 577.79 L817.45 579.47 L817.75 581.15 L818.05 582.83 L818.35 584.5 L818.65 586.17 L818.95 587.84 L819.25 589.5 L819.25 589.21 L819.55 587.45 L819.86 585.69 L820.16 583.94 L820.47 582.2 L820.77 580.46 L821.07 578.72 L821.38 576.99 L821.68 575.26 L821.99 573.86 L822.29 573.02 L822.59 572.35 L822.9 571.83 L823.2 571.44 L823.51 571.17 L823.81 571 L824.11 570.91 L824.42 570.87 L824.72 570.88 L825.02 570.91 L825.33 570.95 L825.63 571 L825.94 571.09 L826.24 571.23 L826.54 571.44 L826.85 571.75 L827.15 572.16 L827.46 572.71 L827.76 573.41 L828.06 574.27 L828.37 575.55 L828.67 577.33 L828.98 579.11 L829.28 580.88 L829.58 582.63 L829.89 584.38 L830.19 586.13 L830.5 587.86 L830.8 589.59 L830.8 588.83 L831.1 587.08 L831.4 585.33 L831.7 583.58 L832 581.84 L832.3 580.11 L832.6 578.38 L832.9 576.65 L833.2 575.1 L833.5 574.33 L833.8 573.71 L834.1 573.22 L834.4 572.84 L834.7 572.57 L835 572.38 L835.3 572.27 L835.6 572.22 L835.9 572.21 L836.2 572.21 L836.5 572.22 L836.8 572.23 L837.1 572.26 L837.4 572.33 L837.7 572.44 L838 572.63 L838.3 572.89 L838.6 573.26 L838.9 573.74 L839.2 574.35 L839.5 575.11 L839.8 576.36 L840.1 578.16 L840.4 579.95 L840.7 581.74 L841 583.52 L841.3 585.3 L841.6 587.07 L841.9 588.84 L841.9 588.22 L842.21 586.42 L842.51 584.62 L842.82 582.82 L843.13 581.03 L843.44 579.25 L843.74 577.47 L844.05 575.7 L844.36 574.86 L844.66 574.21 L844.97 573.7 L845.28 573.31 L845.59 573.03 L845.89 572.83 L846.2 572.71 L846.51 572.65 L846.81 572.63 L847.12 572.63 L847.43 572.64 L847.74 572.66 L848.04 572.7 L848.35 572.78 L848.66 572.92 L848.96 573.12 L849.27 573.42 L849.58 573.81 L849.89 574.33 L850.19 574.97 L850.5 575.77 L850.81 577.5 L851.11 579.26 L851.42 581.02 L851.73 582.78 L852.04 584.54 L852.34 586.3 L852.65 588.06 L852.65 587.8 L852.95 586.12 L853.26 584.44 L853.56 582.75 L853.86 581.07 L854.16 579.39 L854.47 577.71 L854.77 576.03 L855.07 575.2 L855.38 574.58 L855.68 574.09 L855.98 573.71 L856.28 573.44 L856.59 573.25 L856.89 573.13 L857.19 573.06 L857.5 573.04 L857.8 573.04 L858.1 573.05 L858.4 573.07 L858.71 573.11 L859.01 573.18 L859.31 573.31 L859.62 573.51 L859.92 573.8 L860.22 574.18 L860.52 574.68 L860.83 575.32 L861.13 576.1 L861.43 577.78 L861.74 579.52 L862.04 581.26 L862.34 583 L862.64 584.73 L862.95 586.47 L863.25 588.21 L863.25 587.53 L863.55 585.91 L863.85 584.29 L864.15 582.67 L864.45 581.05 L864.75 579.43 L865.05 577.81 L865.35 576.18 L865.65 575.46 L865.95 574.87 L866.25 574.4 L866.55 574.05 L866.85 573.8 L867.15 573.62 L867.45 573.52 L867.75 573.46 L868.05 573.44 L868.35 573.44 L868.65 573.46 L868.95 573.48 L869.25 573.52 L869.55 573.62 L869.85 573.77 L870.15 574 L870.45 574.33 L870.75 574.78 L871.05 575.36 L871.35 576.08 L871.65 577.47 L871.95 579.21 L872.25 580.95 L872.55 582.69 L872.85 584.44 L873.15 586.18 L873.45 587.92 L873.45 587.16 L873.75 585.5 L874.06 583.85 L874.36 582.2 L874.67 580.55 L874.97 578.9 L875.28 577.24 L875.58 576.03 L875.89 575.37 L876.19 574.86 L876.5 574.47 L876.8 574.19 L877.11 574 L877.41 573.89 L877.72 573.84 L878.02 573.82 L878.33 573.83 L878.63 573.84 L878.93 573.87 L879.24 573.93 L879.54 574.04 L879.85 574.23 L880.15 574.51 L880.46 574.9 L880.76 575.41 L881.07 576.08 L881.37 577.17 L881.68 578.89 L881.98 580.62 L882.29 582.35 L882.59 584.08 L882.9 585.8 L883.2 587.53 L883.2 587.11 L883.51 585.45 L883.81 583.79 L884.12 582.13 L884.43 580.47 L884.73 578.81 L885.04 577.15 L885.35 576.15 L885.65 575.53 L885.96 575.05 L886.26 574.71 L886.57 574.46 L886.88 574.31 L887.18 574.23 L887.49 574.19 L887.8 574.19 L888.1 574.2 L888.41 574.21 L888.72 574.24 L889.02 574.32 L889.33 574.47 L889.64 574.7 L889.94 575.05 L890.25 575.52 L890.55 576.14 L890.86 577.04 L891.17 578.74 L891.47 580.45 L891.78 582.15 L892.09 583.86 L892.39 585.56 L892.7 587.27 L892.7 586.76 L893.01 585.12 L893.31 583.47 L893.62 581.83 L893.93 580.19 L894.23 578.54 L894.54 576.9 L894.85 576.04 L895.15 575.44 L895.46 574.99 L895.77 574.65 L896.07 574.43 L896.38 574.28 L896.69 574.2 L896.99 574.17 L897.3 574.16 L897.61 574.16 L897.91 574.17 L898.22 574.23 L898.53 574.34 L898.83 574.53 L899.14 574.82 L899.45 575.25 L899.75 575.81 L900.06 576.55 L900.37 578.15 L900.67 579.87 L900.98 581.58 L901.29 583.29 L901.59 585 L901.9 586.72 L901.9 586.38 L902.2 584.74 L902.5 583.11 L902.8 581.48 L903.1 579.84 L903.4 578.21 L903.7 576.58 L904 575.85 L904.3 575.28 L904.6 574.85 L904.9 574.54 L905.2 574.34 L905.5 574.21 L905.8 574.15 L906.1 574.12 L906.4 574.12 L906.7 574.12 L907 574.14 L907.3 574.2 L907.6 574.33 L907.9 574.53 L908.2 574.84 L908.5 575.26 L908.8 575.83 L909.1 576.55 L909.4 578.18 L909.7 579.82 L910 581.45 L910.3 583.08 L910.6 584.71 L910.9 586.34 L910.9 585.91 L911.2 584.33 L911.5 582.74 L911.81 581.16 L912.11 579.57 L912.41 577.98 L912.71 576.43 L913.01 575.72 L913.31 575.18 L913.62 574.77 L913.92 574.48 L914.22 574.28 L914.52 574.16 L914.82 574.1 L915.12 574.08 L915.43 574.08 L915.73 574.08 L916.03 574.11 L916.33 574.19 L916.63 574.34 L916.93 574.59 L917.24 574.95 L917.54 575.46 L917.84 576.14 L918.14 577.49 L918.44 579.17 L918.74 580.85 L919.05 582.52 L919.35 584.2 L919.65 585.87 L919.65 585.02 L919.96 583.45 L920.26 581.87 L920.57 580.29 L920.87 578.71 L921.18 577.13 L921.48 575.92 L921.79 575.29 L922.09 574.83 L922.4 574.49 L922.71 574.27 L923.01 574.14 L923.32 574.07 L923.62 574.04 L923.93 574.04 L924.23 574.04 L924.54 574.08 L924.84 574.17 L925.15 574.34 L925.46 574.63 L925.76 575.05 L926.07 575.64 L926.37 576.62 L926.68 578.29 L926.98 579.97 L927.29 581.64 L927.59 583.31 L927.9 584.99 L927.9 584.14 L928.21 582.57 L928.52 581 L928.83 579.43 L929.14 577.86 L929.45 576.29 L929.76 575.45 L930.07 574.91 L930.38 574.53 L930.69 574.27 L931 574.12 L931.31 574.04 L931.62 574.01 L931.93 574 L932.24 574.01 L932.55 574.05 L932.86 574.16 L933.17 574.36 L933.48 574.68 L933.79 575.17 L934.1 575.85 L934.41 577.38 L934.72 579.04 L935.03 580.7 L935.34 582.36 L935.65 584.02 L935.65 583.34 L935.96 581.79 L936.26 580.24 L936.57 578.69 L936.88 577.14 L937.18 575.67 L937.49 575.01 L937.79 574.52 L938.1 574.19 L938.41 573.98 L938.71 573.86 L939.02 573.8 L939.33 573.78 L939.63 573.78 L939.94 573.79 L940.24 573.87 L940.55 574.03 L940.86 574.31 L941.16 574.75 L941.47 575.37 L941.77 576.71 L942.08 578.31 L942.39 579.9 L942.69 581.5 L943 583.09 L943 582.67 L943.31 581.23 L943.62 579.8 L943.93 578.36 L944.23 576.93 L944.54 575.49 L944.85 574.73 L945.16 574.22 L945.47 573.88 L945.78 573.68 L946.09 573.58 L946.4 573.54 L946.7 573.53 L947.01 573.54 L947.32 573.6 L947.63 573.75 L947.94 574.05 L948.25 574.52 L948.56 575.2 L948.87 576.61 L949.17 578.06 L949.48 579.52 L949.79 580.97 L950.1 582.43 L950.1 582 L950.41 580.69 L950.72 579.38 L951.03 578.07 L951.35 576.76 L951.66 575.45 L951.97 574.52 L952.28 573.96 L952.59 573.61 L952.9 573.41 L953.21 573.33 L953.53 573.3 L953.84 573.26 L954.15 573.26 L954.46 573.37 L954.77 573.62 L955.08 574.09 L955.39 574.84 L955.7 576.16 L956.02 577.48 L956.33 578.79 L956.64 580.11 L956.95 581.43 L956.95 581.03 L957.26 579.78 L957.57 578.53 L957.89 577.28 L958.2 576.03 L958.51 574.78 L958.82 573.75 L959.13 573.12 L959.45 572.74 L959.76 572.53 L960.07 572.43 L960.38 572.39 L960.69 572.37 L961 572.44 L961.32 572.69 L961.63 573.18 L961.94 574.03 L962.25 575.25 L962.56 576.47 L962.88 577.69 L963.19 578.92 L963.5 580.14 L963.5 579.76 L963.81 578.58 L964.12 577.4 L964.44 576.22 L964.75 575.04 L965.06 573.86 L965.38 572.81 L965.69 572.14 L966 571.76 L966.31 571.58 L966.62 571.51 L966.94 571.44 L967.25 571.43 L967.56 571.6 L967.88 572.06 L968.19 572.91 L968.5 574.01 L968.81 575.11 L969.12 576.21 L969.44 577.31 L969.75 578.41 L969.75 577.91 L970.06 576.78 L970.37 575.65 L970.67 574.52 L970.98 573.4 L971.29 572.27 L971.6 571.17 L971.91 570.42 L972.21 570 L972.52 569.8 L972.83 569.69 L973.14 569.62 L973.44 569.72 L973.75 570.11 L974.06 570.95 L974.37 571.98 L974.68 573.02 L974.98 574.05 L975.29 575.08 L975.6 576.11 L975.6 575.43 L975.91 574.31 L976.22 573.19 L976.54 572.07 L976.85 570.95 L977.16 569.84 L977.47 568.85 L977.78 568.29 L978.09 568.02 L978.41 567.9 L978.72 567.82 L979.03 567.95 L979.34 568.5 L979.65 569.49 L979.96 570.51 L980.28 571.53 L980.59 572.55 L980.9 573.58 L980.9 573.01 L981.2 571.88 L981.51 570.75 L981.81 569.63 L982.11 568.5 L982.42 567.37 L982.72 566.59 L983.02 566.2 L983.33 566.03 L983.63 565.88 L983.93 565.88 L984.23 566.25 L984.54 567.09 L984.84 568 L985.14 568.9 L985.45 569.81 L985.75 570.71 L985.75 570.21 L986.07 568.99 L986.39 567.77 L986.7 566.55 L987.02 565.33 L987.34 564.25 L987.66 563.65 L987.98 563.37 L988.29 563.15 L988.61 563.08 L988.93 563.51 L989.25 564.4 L989.56 565.28 L989.88 566.17 L990.2 567.06 L990.2 566.37 L990.53 565.06 L990.85 563.74 L991.17 562.42 L991.5 561.11 L991.83 560.26 L992.15 559.83 L992.47 559.49 L992.8 559.36 L993.12 559.9 L993.45 560.71 L993.77 561.52 L994.1 562.33 L994.1 561.76 L994.41 560.33 L994.73 558.91 L995.04 557.48 L995.35 556.21 L995.67 555.51 L995.98 555.09 L996.3 554.82 L996.61 555.15 L996.92 555.86 L997.24 556.56 L997.55 557.26 L997.55 556.89 L997.87 555.42 L998.18 553.95 L998.5 552.49 L998.81 551.37 L999.12 550.8 L999.44 550.18 L999.75 549.94 L1000.07 550.33 L1000.38 550.73 L1000.7 551.14 L1000.7 550.76 L1001.02 548.99 L1001.33 547.21 L1001.65 545.46 L1001.97 544.28 L1002.28 543.69 L1002.6 543.89 L1002.92 544.85 L1003.23 545.96 L1003.55 547.06 L1003.55 548.19 L1003.86 546.64 L1004.17 545.1 L1004.49 543.72 L1004.8 543.32 L1005.11 543.46 L1005.42 543.8 L1005.74 544.43 L1006.05 545.43 L1006.36 546.5 L1006.67 547.56 L1006.99 548.62 L1007.3 549.69 L1007.3 652 L1006.99 652 L1006.67 652 L1006.36 652 L1006.05 652 L1005.74 652 L1005.42 652 L1005.11 652 L1004.8 652 L1004.49 652 L1004.17 652 L1003.86 652 L1003.55 652 L1003.55 652 L1003.23 652 L1002.92 652 L1002.6 652 L1002.28 652 L1001.97 652 L1001.65 652 L1001.33 652 L1001.02 652 L1000.7 652 L1000.7 652 L1000.38 652 L1000.07 652 L999.75 652 L999.44 652 L999.12 652 L998.81 652 L998.5 652 L998.18 652 L997.87 652 L997.55 652 L997.55 652 L997.24 652 L996.92 652 L996.61 644.47 L996.3 640.57 L995.98 639.86 L995.67 639.95 L995.35 641.37 L995.04 646.31 L994.73 652 L994.41 652 L994.1 652 L994.1 652 L993.77 652 L993.45 652 L993.12 636.38 L992.8 626.78 L992.47 624.45 L992.15 624.39 L991.83 625.62 L991.5 631.01 L991.17 644.16 L990.85 652 L990.53 652 L990.2 652 L990.2 652 L989.88 652 L989.56 652 L989.25 651.54 L988.93 623.84 L988.61 611.9 L988.29 608.82 L987.98 608.7 L987.66 610.1 L987.34 616.73 L987.02 633.28 L986.7 652 L986.39 652 L986.07 652 L985.75 652 L985.75 652 L985.45 652 L985.14 652 L984.84 642.07 L984.54 623.39 L984.23 612.98 L983.93 608.29 L983.63 606.94 L983.33 606.85 L983.02 607.25 L982.72 609.48 L982.42 615.39 L982.11 627.01 L981.81 646.52 L981.51 652 L981.2 652 L980.9 652 L980.9 652 L980.59 652 L980.28 652 L979.96 652 L979.65 633 L979.34 613.76 L979.03 604.46 L978.72 601.32 L978.41 600.92 L978.09 601.16 L977.78 603.24 L977.47 609.5 L977.16 622.58 L976.85 645.29 L976.54 652 L976.22 652 L975.91 652 L975.6 652 L975.6 652 L975.29 652 L974.98 652 L974.68 652 L974.37 645.97 L974.06 622.78 L973.75 609.23 L973.44 602.56 L973.14 600.21 L972.83 599.88 L972.52 600.02 L972.21 601.39 L971.91 605.7 L971.6 614.87 L971.29 630.96 L970.98 652 L970.67 652 L970.37 652 L970.06 652 L969.75 652 L969.75 652 L969.44 652 L969.12 652 L968.81 652 L968.5 652 L968.19 640.96 L967.88 617.35 L967.56 604.19 L967.25 598.25 L966.94 596.53 L966.62 596.41 L966.31 596.92 L966 599.83 L965.69 607.56 L965.38 622.79 L965.06 648.37 L964.75 652 L964.44 652 L964.12 652 L963.81 652 L963.5 652 L963.5 652 L963.19 652 L962.88 652 L962.56 652 L962.25 652 L961.94 640.35 L961.63 618.55 L961.32 605.53 L961 598.9 L960.69 596.38 L960.38 595.92 L960.07 595.99 L959.76 597.04 L959.45 600.69 L959.13 608.81 L958.82 623.44 L958.51 646.69 L958.2 652 L957.89 652 L957.57 652 L957.26 652 L956.95 652 L956.95 652 L956.64 652 L956.33 652 L956.02 652 L955.7 649.58 L955.39 629.19 L955.08 615.27 L954.77 606.5 L954.46 601.61 L954.15 599.41 L953.84 598.77 L953.53 598.72 L953.21 598.92 L952.9 600.01 L952.59 602.93 L952.28 608.67 L951.97 618.31 L951.66 632.97 L951.35 652 L951.03 652 L950.72 652 L950.41 652 L950.1 652 L950.1 652 L949.79 652 L949.48 652 L949.17 652 L948.87 642.39 L948.56 626.27 L948.25 614.88 L947.94 607.33 L947.63 602.78 L947.32 600.42 L947.01 599.5 L946.7 599.32 L946.4 599.33 L946.09 599.66 L945.78 600.85 L945.47 603.57 L945.16 608.53 L944.85 616.49 L944.54 628.21 L944.23 644.52 L943.93 652 L943.62 652 L943.31 652 L943 652 L943 652 L942.69 652 L942.39 652 L942.08 652 L941.77 652 L941.47 652 L941.16 632.31 L940.86 615.58 L940.55 605.05 L940.24 599.18 L939.94 596.53 L939.63 595.77 L939.33 595.72 L939.02 595.95 L938.71 597.29 L938.41 600.85 L938.1 607.84 L937.79 619.58 L937.49 637.43 L937.18 652 L936.88 652 L936.57 652 L936.26 652 L935.96 652 L935.65 652 L935.65 652 L935.34 652 L935.03 652 L934.72 652 L934.41 652 L934.1 640.67 L933.79 623.32 L933.48 611.22 L933.17 603.36 L932.86 598.77 L932.55 596.5 L932.24 595.71 L931.93 595.59 L931.62 595.64 L931.31 596.14 L931 597.69 L930.69 601.01 L930.38 606.82 L930.07 615.93 L929.76 629.16 L929.45 647.34 L929.14 652 L928.83 652 L928.52 652 L928.21 652 L927.9 652 L927.9 652 L927.59 652 L927.29 652 L926.98 652 L926.68 652 L926.37 649.94 L926.07 631.13 L925.76 617.33 L925.46 607.71 L925.15 601.47 L924.84 597.82 L924.54 596.03 L924.23 595.4 L923.93 595.31 L923.62 595.35 L923.32 595.75 L923.01 597.01 L922.71 599.7 L922.4 604.4 L922.09 611.77 L921.79 622.46 L921.48 637.15 L921.18 652 L920.87 652 L920.57 652 L920.26 652 L919.96 652 L919.65 652 L919.65 652 L919.35 652 L919.05 652 L918.74 652 L918.44 652 L918.14 647.5 L917.84 630.97 L917.54 618.37 L917.24 609.14 L916.93 602.7 L916.63 598.53 L916.33 596.09 L916.03 594.89 L915.73 594.47 L915.43 594.41 L915.12 594.44 L914.82 594.72 L914.52 595.58 L914.22 597.4 L913.92 600.6 L913.62 605.6 L913.31 612.86 L913.01 622.84 L912.71 636.01 L912.41 652 L912.11 652 L911.81 652 L911.5 652 L911.2 652 L910.9 652 L910.9 652 L910.6 652 L910.3 652 L910 652 L909.7 652 L909.4 652 L909.1 652 L908.8 634.47 L908.5 619.53 L908.2 608.62 L907.9 601.05 L907.6 596.18 L907.3 593.36 L907 592.01 L906.7 591.56 L906.4 591.5 L906.1 591.56 L905.8 592.01 L905.5 593.36 L905.2 596.18 L904.9 601.05 L904.6 608.62 L904.3 619.53 L904 634.47 L903.7 652 L903.4 652 L903.1 652 L902.8 652 L902.5 652 L902.2 652 L901.9 652 L901.9 652 L901.59 652 L901.29 652 L900.98 652 L900.67 652 L900.37 652 L900.06 652 L899.75 642.05 L899.45 624.06 L899.14 611.13 L898.83 602.35 L898.53 596.87 L898.22 593.85 L897.91 592.52 L897.61 592.16 L897.3 592.14 L896.99 592.3 L896.69 593.09 L896.38 595.13 L896.07 599.08 L895.77 605.64 L895.46 615.54 L895.15 629.57 L894.85 648.51 L894.54 652 L894.23 652 L893.93 652 L893.62 652 L893.31 652 L893.01 652 L892.7 652 L892.7 652 L892.39 652 L892.09 652 L891.78 652 L891.47 652 L891.17 652 L890.86 652 L890.55 652 L890.25 638.26 L889.94 621.75 L889.64 610.09 L889.33 602.37 L889.02 597.71 L888.72 595.3 L888.41 594.36 L888.1 594.17 L887.8 594.19 L887.49 594.53 L887.18 595.78 L886.88 598.63 L886.57 603.83 L886.26 612.17 L885.96 624.45 L885.65 641.54 L885.35 652 L885.04 652 L884.73 652 L884.43 652 L884.12 652 L883.81 652 L883.51 652 L883.2 652 L883.2 652 L882.9 652 L882.59 652 L882.29 652 L881.98 652 L881.68 652 L881.37 652 L881.07 652 L880.76 644.64 L880.46 625.82 L880.15 612.23 L879.85 602.96 L879.54 597.12 L879.24 593.86 L878.93 592.4 L878.63 591.98 L878.33 591.95 L878.02 592.08 L877.72 592.85 L877.41 594.89 L877.11 598.9 L876.8 605.62 L876.5 615.85 L876.19 630.4 L875.89 650.1 L875.58 652 L875.28 652 L874.97 652 L874.67 652 L874.36 652 L874.06 652 L873.75 652 L873.45 652 L873.45 652 L873.15 652 L872.85 652 L872.55 652 L872.25 652 L871.95 652 L871.65 652 L871.35 639.77 L871.05 626.34 L870.75 615.97 L870.45 608.24 L870.15 602.73 L869.85 599.03 L869.55 596.76 L869.25 595.55 L868.95 595.05 L868.65 594.93 L868.35 594.93 L868.05 595.02 L867.75 595.44 L867.45 596.45 L867.15 598.32 L866.85 601.39 L866.55 605.95 L866.25 612.36 L865.95 620.95 L865.65 632.08 L865.35 646.1 L865.05 652 L864.75 652 L864.45 652 L864.15 652 L863.85 652 L863.55 652 L863.25 652 L863.25 652 L862.95 652 L862.64 652 L862.34 652 L862.04 652 L861.74 652 L861.43 644.68 L861.13 632.45 L860.83 622.57 L860.52 614.76 L860.22 608.76 L859.92 604.32 L859.62 601.18 L859.31 599.1 L859.01 597.85 L858.71 597.2 L858.4 596.94 L858.1 596.89 L857.8 596.9 L857.5 596.99 L857.19 597.33 L856.89 598.11 L856.59 599.52 L856.28 601.78 L855.98 605.12 L855.68 609.76 L855.38 615.94 L855.07 623.91 L854.77 633.91 L854.47 646.21 L854.16 652 L853.86 652 L853.56 652 L853.26 652 L852.95 652 L852.65 652 L852.65 652 L852.34 652 L852.04 652 L851.73 652 L851.42 652 L851.11 652 L850.81 652 L850.5 652 L850.19 652 L849.89 640.82 L849.58 625.63 L849.27 614.33 L848.96 606.31 L848.66 600.96 L848.35 597.71 L848.04 596 L847.74 595.31 L847.43 595.16 L847.12 595.17 L846.81 595.37 L846.51 596.17 L846.2 598.04 L845.89 601.49 L845.59 607.06 L845.28 615.32 L844.97 626.86 L844.66 642.29 L844.36 652 L844.05 652 L843.74 652 L843.44 652 L843.13 652 L842.82 652 L842.51 652 L842.21 652 L841.9 652 L841.9 652 L841.6 652 L841.3 652 L841 652 L840.7 652 L840.4 652 L840.1 652 L839.8 637.61 L839.5 625.5 L839.2 615.78 L838.9 608.17 L838.6 602.39 L838.3 598.17 L838 595.24 L837.7 593.35 L837.4 592.26 L837.1 591.74 L836.8 591.57 L836.5 591.54 L836.2 591.56 L835.9 591.71 L835.6 592.15 L835.3 593.07 L835 594.65 L834.7 597.11 L834.4 600.67 L834.1 605.53 L833.8 611.93 L833.5 620.11 L833.2 630.29 L832.9 642.73 L832.6 652 L832.3 652 L832 652 L831.7 652 L831.4 652 L831.1 652 L830.8 652 L830.8 652 L830.5 652 L830.19 652 L829.89 652 L829.58 652 L829.28 652 L828.98 652 L828.67 652 L828.37 643.98 L828.06 630 L827.76 618.85 L827.46 610.18 L827.15 603.65 L826.85 598.93 L826.54 595.71 L826.24 593.69 L825.94 592.56 L825.63 592.05 L825.33 591.9 L825.02 591.89 L824.72 591.94 L824.42 592.21 L824.11 592.93 L823.81 594.34 L823.51 596.71 L823.2 600.32 L822.9 605.45 L822.59 612.39 L822.29 621.46 L821.99 632.96 L821.68 647.22 L821.38 652 L821.07 652 L820.77 652 L820.47 652 L820.16 652 L819.86 652 L819.55 652 L819.25 652 L819.25 652 L818.95 652 L818.65 652 L818.35 652 L818.05 652 L817.75 652 L817.45 644.28 L817.15 633.72 L816.85 624.86 L816.55 617.54 L816.25 611.61 L815.95 606.9 L815.65 603.26 L815.35 600.55 L815.05 598.62 L814.75 597.32 L814.45 596.53 L814.15 596.11 L813.85 595.93 L813.55 595.89 L813.25 595.89 L812.95 595.93 L812.65 596.11 L812.35 596.53 L812.05 597.32 L811.75 598.62 L811.45 600.55 L811.15 603.26 L810.85 606.9 L810.55 611.61 L810.25 617.54 L809.95 624.86 L809.65 633.72 L809.35 644.28 L809.05 652 L808.75 652 L808.45 652 L808.15 652 L807.85 652 L807.55 652 L807.55 652 L807.25 652 L806.94 652 L806.64 652 L806.33 652 L806.03 652 L805.73 649.42 L805.42 637.11 L805.12 626.83 L804.82 618.37 L804.51 611.55 L804.21 606.17 L803.9 602.05 L803.6 599 L803.3 596.86 L802.99 595.45 L802.69 594.61 L802.38 594.19 L802.08 594.02 L801.78 593.99 L801.47 594 L801.17 594.07 L800.87 594.33 L800.56 594.89 L800.26 595.91 L799.95 597.52 L799.65 599.89 L799.35 603.16 L799.04 607.52 L798.74 613.11 L798.43 620.13 L798.13 628.73 L797.83 639.11 L797.52 651.45 L797.22 652 L796.92 652 L796.61 652 L796.31 652 L796 652 L795.7 652 L795.7 652 L795.4 652 L795.1 652 L794.8 652 L794.5 652 L794.2 652 L793.9 645.43 L793.6 635.21 L793.3 626.59 L793 619.41 L792.7 613.53 L792.4 608.81 L792.1 605.12 L791.8 602.31 L791.5 600.26 L791.2 598.84 L790.9 597.93 L790.6 597.4 L790.3 597.14 L790 597.06 L789.7 597.05 L789.4 597.05 L789.1 597.11 L788.8 597.27 L788.5 597.61 L788.2 598.19 L787.9 599.1 L787.6 600.41 L787.3 602.21 L787 604.57 L786.7 607.59 L786.4 611.35 L786.1 615.94 L785.8 621.45 L785.5 627.98 L785.2 635.62 L784.9 644.47 L784.6 652 L784.3 652 L784 652 L783.7 652 L783.4 652 L783.1 652 L782.8 652 L782.8 652 L782.5 652 L782.19 652 L781.89 652 L781.58 652 L781.28 652 L780.97 652 L780.67 646.43 L780.36 637.49 L780.06 629.8 L779.75 623.26 L779.45 617.76 L779.14 613.21 L778.84 609.51 L778.53 606.57 L778.23 604.28 L777.92 602.57 L777.62 601.34 L777.31 600.51 L777.01 599.99 L776.7 599.7 L776.4 599.58 L776.1 599.55 L775.79 599.55 L775.49 599.58 L775.18 599.73 L774.88 600.11 L774.57 600.84 L774.27 602.06 L773.96 603.89 L773.66 606.48 L773.35 609.97 L773.05 614.51 L772.74 620.25 L772.44 627.35 L772.13 635.97 L771.83 646.26 L771.52 652 L771.22 652 L770.91 652 L770.61 652 L770.3 652 L770 652 L770 652 L769.7 652 L769.39 652 L769.09 652 L768.79 652 L768.49 651.12 L768.18 640.1 L767.88 630.74 L767.58 622.88 L767.28 616.4 L766.97 611.14 L766.67 606.97 L766.37 603.75 L766.07 601.34 L765.76 599.63 L765.46 598.48 L765.16 597.78 L764.86 597.4 L764.55 597.24 L764.25 597.21 L763.95 597.21 L763.65 597.24 L763.34 597.4 L763.04 597.78 L762.74 598.48 L762.44 599.63 L762.13 601.34 L761.83 603.75 L761.53 606.97 L761.23 611.14 L760.92 616.4 L760.62 622.88 L760.32 630.74 L760.02 640.1 L759.71 651.12 L759.41 652 L759.11 652 L758.81 652 L758.5 652 L758.2 652 Z" fill="#3572b3" stroke="#3572b3" stroke-width="1.0" stroke-linejoin="round"/>
<path d="M164.2 650 V624 M176.5 650 V636 M188.2 650 V632 M195.2 650 V639 M210.4 650 V634 M218.3 650 V640 M229.6 650 V630 M236.9 650 V637 M247.2 650 V634 M255 650 V628 M262.7 650 V633 M272.5 650 V620 M282.6 650 V625 M286 650 V636 M293.4 650 V622 M296.8 650 V631 M304.5 650 V618 M153 650 V640 M147.5 650 V642" fill="none" stroke="#fff" stroke-width="0.9"/>
<path d="M135.5 604.5 L135.78 604.73 L136.17 605.04 L136.63 605.42 L137.09 605.91 L137.5 606.5 L137.87 607.14 L138.23 607.81 L138.58 608.61 L138.9 609.64 L139.2 611 L139.47 612.48 L139.71 614.02 L139.92 615.92 L140.12 618.48 L140.3 622 L140.46 627.26 L140.6 634.07 L140.73 641.25 L140.83 647.62 L140.9 652 M375.2 652 L375.33 647.51 L375.51 641.19 L375.73 633.75 L375.96 625.93 L376.19 618.44 L376.4 612 L376.59 606.51 L376.78 601.35 L376.97 596.53 L377.16 592.04 L377.37 587.86 L377.6 584 L377.85 580.16 L378.13 576.28 L378.42 572.72 L378.71 569.83 L379.01 567.98 L379.3 567.5 L379.59 568.68 L379.87 571.28 L380.16 574.91 L380.45 579.17 L380.73 583.66 L381 588 L381.28 592.68 L381.57 598.11 L381.86 603.78 L382.12 609.17 L382.34 613.75 L382.5 617 M382.5 617 L382.61 613.92 L382.75 609.54 L382.93 604.41 L383.11 599.07 L383.31 594.09 L383.5 590 L383.68 586.64 L383.87 583.54 L384.07 580.78 L384.27 578.46 L384.48 576.67 L384.7 575.5 L384.93 574.95 L385.16 574.94 L385.4 575.47 L385.65 576.5 L385.92 578.02 L386.2 580 L386.5 582.61 L386.81 585.9 L387.14 589.68 L387.49 593.74 L387.84 597.92 L388.2 602 L388.6 606.37 L389.06 611.24 L389.53 616.23 L389.96 620.9 L390.33 624.86 L390.6 627.7 M390.6 627.7 L390.77 623.19 L391 616.79 L391.28 609.29 L391.58 601.47 L391.89 594.11 L392.2 588 L392.51 582.69 L392.83 577.47 L393.17 572.71 L393.51 568.79 L393.86 566.09 L394.2 565 L394.55 565.92 L394.9 568.62 L395.25 572.55 L395.6 577.13 L395.95 581.81 L396.3 586 L396.66 590.13 L397.05 594.73 L397.43 599.41 L397.79 603.81 L398.08 607.53 L398.3 610.2 M398.3 610.2 L398.42 607.97 L398.59 604.77 L398.79 601.04 L399.01 597.21 L399.22 593.72 L399.4 591 L399.56 588.86 L399.71 586.91 L399.85 585.3 L399.99 584.18 L400.14 583.69 L400.3 584 L400.47 584.92 L400.64 586.3 L400.81 588.31 L401 591.15 L401.19 594.98 L401.4 600 L401.64 607.19 L401.93 616.59 L402.22 627 L402.5 637.19 L402.73 645.93 L402.9 652 M402.9 652 L403.08 644.04 L403.32 632.59 L403.61 619.24 L403.93 605.61 L404.26 593.33 L404.6 584 L404.95 577.57 L405.32 572.73 L405.71 569.24 L406.1 566.82 L406.5 565.23 L406.9 564.2 L407.3 564.05 L407.7 565.04 L408.11 566.86 L408.51 569.18 L408.91 571.67 L409.3 574 L409.7 576.49 L410.13 579.47 L410.55 582.61 L410.94 585.62 L411.26 588.19 L411.5 590 M411.5 590 L411.74 587.92 L412.06 584.96 L412.45 581.49 L412.87 577.91 L413.3 574.62 L413.7 572 L414.09 569.84 L414.49 567.77 L414.89 565.99 L415.29 564.67 L415.7 564.02 L416.1 564.2 L416.5 565.28 L416.91 567.12 L417.32 569.61 L417.72 572.66 L418.12 576.16 L418.5 580 L418.87 584.5 L419.24 589.8 L419.6 595.55 L419.95 601.4 L420.28 607 L420.6 612 L420.91 616.62 L421.23 621.19 L421.53 625.5 L421.8 629.37 L422.03 632.6 L422.2 635 M422.2 635 L422.42 631.27 L422.72 626 L423.08 619.81 L423.48 613.33 L423.89 607.19 L424.3 602 L424.71 597.63 L425.14 593.55 L425.59 589.8 L426.06 586.43 L426.53 583.48 L427 581 L427.49 578.96 L427.99 577.33 L428.51 576.11 L429.02 575.34 L429.52 575.03 L430 575.2 L430.46 575.79 L430.92 576.79 L431.36 578.24 L431.79 580.21 L432.21 582.78 L432.6 586 L432.98 590.08 L433.33 595.02 L433.68 600.55 L434 606.4 L434.31 612.31 L434.6 618 L434.88 623.94 L435.16 630.44 L435.43 637 L435.66 643.11 L435.85 648.28 L436 652 M436 652 L436.16 647.47 L436.37 641.07 L436.62 633.56 L436.91 625.7 L437.2 618.26 L437.5 612 L437.8 606.79 L438.12 601.99 L438.45 597.6 L438.79 593.64 L439.14 590.1 L439.5 587 L439.86 584.44 L440.21 582.45 L440.58 580.88 L440.96 579.61 L441.36 578.49 L441.8 577.4 L442.27 576.39 L442.77 575.57 L443.3 574.91 L443.85 574.37 L444.42 573.92 L445 573.5 L445.58 573.14 L446.17 572.86 L446.77 572.66 L447.41 572.54 L448.11 572.49 L448.9 572.5 L449.78 572.59 L450.74 572.76 L451.76 573 L452.82 573.3 L453.91 573.63 L455 574 L456.1 574.42 L457.23 574.9 L458.38 575.42 L459.56 575.96 L460.77 576.49 L462 577 L463.29 577.5 L464.65 578.01 L466.03 578.52 L467.41 579.01 L468.74 579.44 L470 579.8 L471.15 580.09 L472.2 580.33 L473.22 580.52 L474.24 580.67 L475.32 580.76 L476.5 580.8 L477.73 580.81 L478.94 580.78 L480.22 580.7 L481.61 580.56 L483.18 580.33 L485 580 L487.01 579.6 L489.15 579.14 L491.47 578.59 L494.02 577.94 L496.85 577.15 L500 576.2 L503.59 575.06 L507.59 573.76 L511.88 572.32 L516.3 570.77 L520.72 569.16 L525 567.5 L529.28 565.75 L533.7 563.88 L538.12 561.93 L542.41 559.97 L546.41 558.04 L550 556.2 L553.14 554.47 L555.93 552.8 L558.44 551.16 L560.74 549.54 L562.91 547.89 L565 546.2 L566.98 544.48 L568.8 542.77 L570.47 541.04 L572.04 539.26 L573.54 537.42 L575 535.5 L576.42 533.46 L577.78 531.32 L579.06 529.11 L580.28 526.88 L581.42 524.66 L582.5 522.5 L583.49 520.42 L584.4 518.39 L585.24 516.38 L586.02 514.33 L586.77 512.22 L587.5 510 L588.21 507.67 L588.87 505.28 L589.51 502.81 L590.1 500.28 L590.67 497.67 L591.2 495 L591.69 492.31 L592.15 489.63 L592.57 486.88 L592.96 483.98 L593.34 480.88 L593.7 477.5 L594.05 473.85 L594.37 470 L594.68 465.94 L594.97 461.67 L595.24 457.19 L595.5 452.5 L595.75 447.49 L595.99 442.13 L596.21 436.56 L596.41 430.93 L596.59 425.36 L596.75 420 L596.87 414.86 L596.97 409.81 L597.04 404.84 L597.1 399.91 L597.15 394.97 L597.2 390 L597.25 384.65 L597.3 378.89 L597.34 373.12 L597.37 367.78 L597.4 363.26 L597.42 360 M597.58 360 L597.6 363.26 L597.63 367.78 L597.67 373.12 L597.71 378.89 L597.75 384.65 L597.8 390 L597.85 395.06 L597.91 400.19 L597.97 405.31 L598.04 410.37 L598.11 415.29 L598.2 420 L598.29 424.46 L598.38 428.7 L598.48 432.81 L598.59 436.85 L598.73 440.89 L598.9 445 L599.1 449.17 L599.33 453.33 L599.59 457.5 L599.87 461.67 L600.17 465.83 L600.5 470 L600.84 474.25 L601.19 478.61 L601.57 482.97 L601.99 487.22 L602.46 491.27 L603 495 L603.63 498.41 L604.33 501.57 L605.09 504.53 L605.89 507.31 L606.7 509.96 L607.5 512.5 L608.28 514.87 L609.04 517.03 L609.81 519.05 L610.63 521 L611.52 522.96 L612.5 525 L613.56 527.07 L614.66 529.11 L615.82 531.16 L617.09 533.25 L618.47 535.42 L620 537.7 L621.72 540.18 L623.61 542.86 L625.63 545.62 L627.71 548.34 L629.78 550.9 L631.8 553.2 L633.77 555.21 L635.73 557.02 L637.7 558.68 L639.67 560.23 L641.63 561.72 L643.6 563.2 L645.57 564.64 L647.53 565.99 L649.5 567.29 L651.47 568.54 L653.43 569.77 L655.4 571 L657.39 572.2 L659.42 573.34 L661.44 574.47 L663.44 575.6 L665.37 576.77 L667.2 578 L668.94 579.28 L670.63 580.59 L672.24 581.93 L673.8 583.31 L675.28 584.77 L676.7 586.3 L678.07 587.99 L679.39 589.84 L680.64 591.76 L681.81 593.64 L682.87 595.39 L683.8 596.9 L684.57 598.18 L685.2 599.32 L685.72 600.33 L686.17 601.2 L686.58 601.96 L687 602.6 L687.43 603.1 L687.83 603.44 L688.2 603.66 L688.53 603.8 L688.8 603.9 L689 604 M689 604 L689.22 603.82 L689.51 603.6 L689.86 603.32 L690.24 602.97 L690.63 602.54 L691 602 L691.33 601.48 L691.62 601 L691.92 600.43 L692.27 599.65 L692.68 598.52 L693.2 596.9 L693.85 594.61 L694.61 591.71 L695.44 588.47 L696.31 585.13 L697.18 581.95 L698 579.2 L698.78 576.82 L699.56 574.59 L700.33 572.52 L701.1 570.63 L701.89 568.92 L702.7 567.4 L703.55 566.02 L704.43 564.75 L705.33 563.66 L706.22 562.83 L707.09 562.32 L707.9 562.2 L708.67 562.47 L709.41 563.07 L710.13 563.99 L710.82 565.22 L711.48 566.76 L712.1 568.6 L712.7 570.76 L713.27 573.27 L713.81 576.07 L714.32 579.16 L714.78 582.48 L715.2 586 L715.56 589.67 L715.86 593.51 L716.12 597.59 L716.35 601.98 L716.57 606.76 L716.8 612 L717.04 618.32 L717.27 625.78 L717.5 633.62 L717.7 641.11 L717.87 647.49 L718 652 M718 652 L718.13 647.48 L718.3 641.1 L718.51 633.61 L718.74 625.76 L718.97 618.3 L719.2 612 L719.4 606.74 L719.58 601.9 L719.76 597.46 L719.98 593.4 L720.25 589.68 L720.6 586.3 L721.05 583.15 L721.58 580.24 L722.17 577.67 L722.79 575.59 L723.4 574.09 L724 573.3 L724.6 573.46 L725.22 574.52 L725.84 576.17 L726.45 578.1 L727.01 580.02 L727.5 581.6 L727.93 582.98 L728.32 584.44 L728.67 585.87 L728.97 587.19 L729.21 588.29 L729.4 589.1 M729.4 589.1 L729.6 588.38 L729.87 587.33 L730.19 586.11 L730.54 584.88 L730.88 583.79 L731.2 583 L731.49 582.32 L731.78 581.59 L732.07 580.99 L732.35 580.74 L732.63 581.01 L732.9 582 L733.16 583.51 L733.42 585.33 L733.67 587.69 L733.91 590.78 L734.16 594.81 L734.4 600 L734.66 607.3 L734.93 616.74 L735.19 627.12 L735.44 637.26 L735.65 645.95 L735.8 652 M735.8 652 L735.93 646.83 L736.1 639.54 L736.3 630.97 L736.53 621.96 L736.76 613.36 L737 606 L737.23 599.73 L737.45 593.86 L737.68 588.38 L737.94 583.32 L738.24 578.69 L738.6 574.5 L739.03 570.55 L739.53 566.78 L740.07 563.44 L740.63 560.77 L741.18 559.01 L741.7 558.4 L742.21 559.2 L742.74 561.27 L743.26 564.26 L743.75 567.78 L744.21 571.48 L744.6 575 L744.93 578.47 L745.2 582.21 L745.42 586.12 L745.63 590.13 L745.81 594.12 L746 598 L746.19 602.05 L746.37 606.4 L746.54 610.74 L746.69 614.76 L746.81 618.15 L746.9 620.6 M746.9 620.6 L747 617.99 L747.13 614.25 L747.29 609.88 L747.47 605.39 L747.64 601.26 L747.8 598 L747.95 595.51 L748.1 593.37 L748.24 591.61 L748.39 590.23 L748.54 589.25 L748.7 588.7 L748.86 588.67 L749.03 589.17 L749.2 590.07 L749.37 591.26 L749.54 592.61 L749.7 594 L749.87 595.65 L750.04 597.71 L750.21 599.93 L750.37 602.08 L750.5 603.91 L750.6 605.2 M750.6 605.2 L750.74 602.38 L750.93 598.42 L751.16 593.76 L751.42 588.84 L751.7 584.1 L752 580 L752.32 576.08 L752.68 571.89 L753.06 567.89 L753.45 564.53 L753.84 562.25 L754.2 561.5 L754.55 562.55 L754.91 565.09 L755.26 568.72 L755.6 573.02 L755.92 577.58 L756.2 582 L756.45 586.33 L756.67 590.93 L756.88 595.78 L757.06 600.91 L757.23 606.31 L757.4 612 L757.57 618.55 L757.73 626.07 L757.88 633.88 L758.01 641.26 L758.12 647.53 L758.2 652 M1008.2 652 L1008.27 651.09 L1008.36 649.8 L1008.47 648.28 L1008.6 646.7 L1008.74 645.22 L1008.9 644 L1009.07 643.03 L1009.25 642.17 L1009.45 641.42 L1009.67 640.74 L1009.92 640.11 L1010.2 639.5 L1010.51 638.93 L1010.85 638.41 L1011.21 637.94 L1011.61 637.51 L1012.04 637.14 L1012.5 636.8 L1012.98 636.51 L1013.49 636.28 L1014.02 636.09 L1014.6 635.93 L1015.26 635.81 L1016 635.7 L1016.77 635.61 L1017.56 635.55 L1018.41 635.52 L1019.39 635.51 L1020.57 635.54 L1022 635.6 L1023.7 635.69 L1025.61 635.82 L1027.72 635.98 L1030 636.17 L1032.43 636.37 L1035 636.6 L1037.98 636.87 L1041.44 637.21 L1045.06 637.56 L1048.5 637.9 L1051.42 638.19 L1053.5 638.4" fill="none" stroke="#2463ab" stroke-width="3.0" stroke-linejoin="round" stroke-linecap="round"/>
<path d="M135.5 615 L136.84 615.03 L138.49 615.08 L140.55 615.14 L143.1 615.19 L146.22 615.21 L150 615.2 L154.73 615.16 L160.4 615.1 L166.64 615.03 L173.1 614.92 L179.41 614.78 L185.2 614.6 L190.53 614.37 L195.69 614.09 L200.71 613.78 L205.59 613.45 L210.34 613.12 L215 612.8 L219.37 612.51 L223.4 612.24 L227.31 611.97 L231.32 611.67 L235.65 611.32 L240.5 610.9 L245.98 610.4 L251.93 609.83 L258.19 609.22 L264.61 608.57 L271.03 607.89 L277.3 607.2 L283.69 606.46 L290.37 605.64 L297.06 604.79 L303.46 603.97 L309.27 603.23 L314.2 602.6 L317.84 602.14 L320.35 601.83 L322.27 601.59 L324.15 601.35 L326.55 601.04 L330 600.6 L334.79 600 L340.53 599.3 L346.79 598.53 L353.11 597.73 L359.06 596.94 L364.2 596.2 L368.5 595.51 L372.3 594.84 L375.74 594.18 L378.92 593.53 L381.97 592.87 L385 592.2 L388 591.53 L390.87 590.86 L393.61 590.18 L396.21 589.5 L398.68 588.81 L401 588.1 L403.16 587.36 L405.17 586.6 L407.04 585.83 L408.79 585.06 L410.43 584.31 L412 583.6 L413.46 582.94 L414.78 582.31 L416.01 581.71 L417.16 581.12 L418.28 580.52 L419.4 579.9 L420.5 579.25 L421.57 578.57 L422.6 577.88 L423.6 577.21 L424.56 576.58 L425.5 576 L426.45 575.46 L427.43 574.94 L428.38 574.46 L429.24 574.03 L429.97 573.67 L435.1 575.2 L438.8 582.6 L443.8 602.9 L453.5 565.1 L464.2 585.4 L468.8 568.3 L474.3 599.6 L480.2 593.7 L484.8 555 L489.4 566 L494.6 553.7 L500.5 571.2 L505.1 570.9 L510 547.5 L515.5 556.2 L520.5 551.2 L525.5 578 L531.2 548.7 L535 543.7 L540.7 531.2 L546.2 547.5 L551.2 532.5 L557 572.5 L562.5 545 L567.5 527.5 L572 518.7 L577 512.5 L582 489.2 L587 499.5 L592 457.5 L597.5 438.7 L602.5 477.5 L607.5 511.2 L613 503 L618.7 508.7 L623.7 511.2 L628.5 541 L633.6 579 L638.5 524.5 L643.6 533.2 L648.8 556.8 L653.8 542.6 L659 534.3 L664.4 565 L669.6 560.3 L674.8 575.7 L680.2 550.9 L685.4 589.9 L690.4 550.9 L695.6 556.8 L700.3 592.9 L705.5 572.1 L711 561.5 L711.47 561.38 L712.09 561.16 L712.83 560.93 L713.69 560.76 L714.65 560.76 L715.7 561 L716.81 561.52 L717.99 562.27 L719.26 563.17 L720.67 564.17 L722.24 565.2 L724 566.2 L726.01 567.22 L728.27 568.32 L730.68 569.46 L733.18 570.58 L735.68 571.64 L738.1 572.6 L740.46 573.46 L742.83 574.24 L745.19 574.98 L747.56 575.66 L749.93 576.29 L752.3 576.9 L754.61 577.45 L756.86 577.93 L759.11 578.38 L761.42 578.8 L763.86 579.23 L766.5 579.7 L769.43 580.21 L772.61 580.76 L775.92 581.31 L779.24 581.84 L782.44 582.35 L785.4 582.8 L787.9 583.17 L790.01 583.46 L792.01 583.72 L794.15 583.99 L796.73 584.3 L800 584.7 L804.11 585.21 L808.86 585.8 L814.04 586.43 L819.43 587.08 L824.82 587.72 L830 588.3 L835 588.84 L840 589.36 L845 589.86 L850 590.34 L855 590.82 L860 591.3 L864.88 591.76 L869.63 592.2 L874.38 592.62 L879.26 593.06 L884.42 593.51 L890 594 L896.09 594.53 L902.59 595.09 L909.38 595.67 L916.3 596.26 L923.22 596.84 L930 597.4 L936.7 597.94 L943.43 598.46 L950.17 598.98 L956.87 599.49 L963.49 600 L970 600.5 L976.54 601.01 L983.17 601.53 L989.73 602.04 L996.05 602.53 L1001.96 602.99 L1007.3 603.4 L1011.92 603.75 L1015.92 604.06 L1019.51 604.32 L1022.91 604.58 L1026.34 604.83 L1030 605.1 L1034.14 605.4 L1038.64 605.73 L1043.17 606.06 L1047.38 606.36 L1050.93 606.62 L1053.5 606.8" fill="none" stroke="#b186a9" stroke-width="3.1" stroke-linejoin="round"/>
</g>
<path d="M365 373.2 v16.2 M365 646 v-16.2 M594.5 373.2 v16.2 M594.5 646 v-16.2 M824 373.2 v16.2 M824 646 v-16.2 M135.5 509.6 h16.2 M1053.5 509.6 h-16.2" fill="none" stroke="#000" stroke-width="3.0"/>
<path d="M192.88 373.2 v8.2 M192.88 646 v-8.2 M250.25 373.2 v8.2 M250.25 646 v-8.2 M307.62 373.2 v8.2 M307.62 646 v-8.2 M422.38 373.2 v8.2 M422.38 646 v-8.2 M479.75 373.2 v8.2 M479.75 646 v-8.2 M537.12 373.2 v8.2 M537.12 646 v-8.2 M651.88 373.2 v8.2 M651.88 646 v-8.2 M709.25 373.2 v8.2 M709.25 646 v-8.2 M766.62 373.2 v8.2 M766.62 646 v-8.2 M881.38 373.2 v8.2 M881.38 646 v-8.2 M938.75 373.2 v8.2 M938.75 646 v-8.2 M996.12 373.2 v8.2 M996.12 646 v-8.2" fill="none" stroke="#000" stroke-width="1.6"/>
<rect x="135.5" y="373.2" width="918" height="272.8" fill="none" stroke="#000" stroke-width="3.1"/>
<text x="135.5" y="680.7" font-size="33.2" text-anchor="middle">0.0</text>
<text x="365" y="680.7" font-size="33.2" text-anchor="middle">4.0</text>
<text x="594.5" y="680.7" font-size="33.2" text-anchor="middle">8.0</text>
<text x="824" y="680.7" font-size="33.2" text-anchor="middle">12.0</text>
<text x="1053.5" y="680.7" font-size="33.2" text-anchor="middle">16.0</text>
<text x="127.6" y="389.1" font-size="33.2" text-anchor="end">10<tspan font-size="23.4" dy="-22.2">1</tspan></text>
<text x="127.6" y="525.5" font-size="33.2" text-anchor="end">10<tspan font-size="23.4" dy="-22.2">−1</tspan></text>
<text x="124.9" y="662.5" font-size="33.2" text-anchor="end">10<tspan font-size="23.4" dy="-22.2">−3</tspan></text>
<text x="161" y="414.1" font-size="33.2" text-anchor="start">(b)</text>
<text x="595.1" y="708.4" font-size="39.3" text-anchor="middle">Frequency (THz)</text>
<text transform="translate(40.2 510.3) rotate(-90)" font-size="39.3" text-anchor="middle">Amplitude (arb. units)</text>
<path d="M784.6 419.5 H837.3" stroke="#c81a05" stroke-width="3.3" stroke-linecap="round" fill="none"/>
<text x="858.0" y="428.1" font-size="26.2">Precursors</text>
<path d="M784.6 456.55 H837.3" stroke="#b186a9" stroke-width="3.3" stroke-linecap="round" fill="none"/>
<text x="858.0" y="465.15" font-size="26.2">Signal Onset</text>
<path d="M784.6 493.6 H837.3" stroke="#2463ab" stroke-width="3.3" stroke-linecap="round" fill="none"/>
<text x="858.0" y="502.2" font-size="26.2">Steady State</text>
</svg></body></html>
